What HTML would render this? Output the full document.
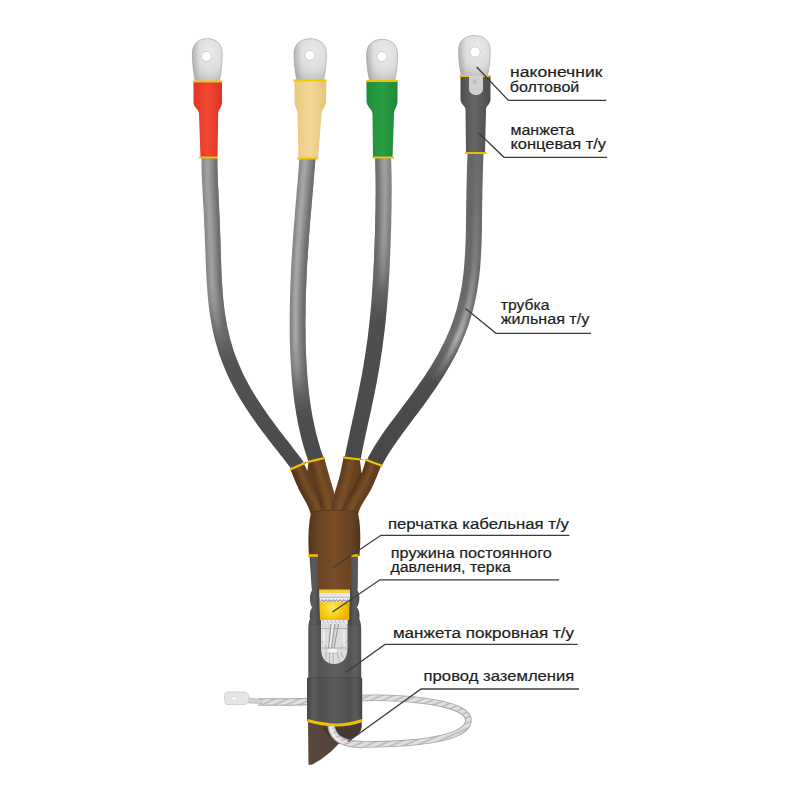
<!DOCTYPE html>
<html><head><meta charset="utf-8">
<style>
html,body{margin:0;padding:0;background:#fff;width:800px;height:800px;overflow:hidden}
svg{display:block}
.t{font-family:"Liberation Sans",sans-serif;font-size:14.9px;fill:#1e1e1e;stroke:#1e1e1e;stroke-width:0.2px}
.ld{stroke:#3c3c3c;stroke-width:1.3;fill:none}
</style></head><body>
<svg width="800" height="800" viewBox="0 0 800 800">
<defs>
  <radialGradient id="spring" cx="0.42" cy="0.6" r="0.55">
    <stop offset="0" stop-color="#ffe868"/><stop offset="0.55" stop-color="#f8cc10"/><stop offset="1" stop-color="#e8b000"/>
  </radialGradient>
  <pattern id="twist" patternUnits="userSpaceOnUse" width="10" height="5" patternTransform="rotate(-24)">
    <rect width="10" height="5" fill="#d6d6d6"/><rect y="0" width="10" height="0.9" fill="#b2b2b2"/><rect y="2" width="10" height="1.6" fill="#e4e4e4"/>
  </pattern>
  <filter id="bl" x="-50%" y="-5%" width="200%" height="110%"><feGaussianBlur stdDeviation="1.8"/></filter>
  <radialGradient id="lug" cx="0.58" cy="0.32" r="0.8">
    <stop offset="0" stop-color="#ececec"/><stop offset="0.55" stop-color="#dcdcdc"/><stop offset="1" stop-color="#b4b4b4"/>
  </radialGradient>
  <linearGradient id="lugsh" x1="0" y1="0" x2="1" y2="0">
    <stop offset="0" stop-color="#888" stop-opacity="0.35"/><stop offset="0.25" stop-color="#888" stop-opacity="0"/><stop offset="1" stop-color="#888" stop-opacity="0"/>
  </linearGradient>
  <linearGradient id="lugv" x1="0" y1="0" x2="0" y2="1">
    <stop offset="0" stop-color="#fff" stop-opacity="0"/><stop offset="0.6" stop-color="#fff" stop-opacity="0"/><stop offset="1" stop-color="#999" stop-opacity="0.35"/>
  </linearGradient>
  <!-- cable base gradients -->
  <linearGradient id="c1b" gradientUnits="userSpaceOnUse" x1="0" y1="160" x2="0" y2="466"><stop offset="0" stop-color="#8a8a8a"/><stop offset="0.45" stop-color="#858585"/><stop offset="0.66" stop-color="#545454"/><stop offset="1" stop-color="#4a4a4a"/></linearGradient>
  <linearGradient id="c1h" gradientUnits="userSpaceOnUse" x1="0" y1="160" x2="0" y2="466"><stop offset="0" stop-color="#a2a2a2"/><stop offset="0.4" stop-color="#a0a0a0"/><stop offset="0.6" stop-color="#a0a0a0" stop-opacity="0"/><stop offset="1" stop-color="#a0a0a0" stop-opacity="0"/></linearGradient>
  <linearGradient id="c1e" gradientUnits="userSpaceOnUse" x1="0" y1="160" x2="0" y2="466"><stop offset="0" stop-color="#6e6e6e"/><stop offset="0.5" stop-color="#6a6a6a"/><stop offset="0.7" stop-color="#4b4b4b" stop-opacity="0"/><stop offset="1" stop-color="#4b4b4b" stop-opacity="0"/></linearGradient>
  <linearGradient id="c2b" gradientUnits="userSpaceOnUse" x1="0" y1="160" x2="0" y2="461"><stop offset="0" stop-color="#8a8a8a"/><stop offset="0.68" stop-color="#7e7e7e"/><stop offset="0.84" stop-color="#4f4f4f"/><stop offset="1" stop-color="#4a4a4a"/></linearGradient>
  <linearGradient id="c2h" gradientUnits="userSpaceOnUse" x1="0" y1="160" x2="0" y2="461"><stop offset="0" stop-color="#a6a6a6"/><stop offset="0.6" stop-color="#a8a8a8"/><stop offset="0.78" stop-color="#a0a0a0" stop-opacity="0"/><stop offset="1" stop-color="#a0a0a0" stop-opacity="0"/></linearGradient>
  <linearGradient id="c2e" gradientUnits="userSpaceOnUse" x1="0" y1="160" x2="0" y2="461"><stop offset="0" stop-color="#6e6e6e"/><stop offset="0.65" stop-color="#6a6a6a"/><stop offset="0.82" stop-color="#4b4b4b" stop-opacity="0"/><stop offset="1" stop-color="#4b4b4b" stop-opacity="0"/></linearGradient>
  <linearGradient id="c3b" gradientUnits="userSpaceOnUse" x1="0" y1="160" x2="0" y2="459"><stop offset="0" stop-color="#888888"/><stop offset="0.33" stop-color="#7a7a7a"/><stop offset="0.54" stop-color="#4f4f4f"/><stop offset="1" stop-color="#494949"/></linearGradient>
  <linearGradient id="c3h" gradientUnits="userSpaceOnUse" x1="0" y1="160" x2="0" y2="459"><stop offset="0" stop-color="#a0a0a0"/><stop offset="0.25" stop-color="#9c9c9c"/><stop offset="0.45" stop-color="#a0a0a0" stop-opacity="0"/><stop offset="1" stop-color="#a0a0a0" stop-opacity="0"/></linearGradient>
  <linearGradient id="c3e" gradientUnits="userSpaceOnUse" x1="0" y1="160" x2="0" y2="459"><stop offset="0" stop-color="#6e6e6e"/><stop offset="0.3" stop-color="#6a6a6a"/><stop offset="0.5" stop-color="#4b4b4b" stop-opacity="0"/><stop offset="1" stop-color="#4b4b4b" stop-opacity="0"/></linearGradient>
  <linearGradient id="c4b" gradientUnits="userSpaceOnUse" x1="0" y1="152" x2="0" y2="463"><stop offset="0" stop-color="#666666"/><stop offset="0.41" stop-color="#686868"/><stop offset="0.6" stop-color="#6e6e6e"/><stop offset="0.75" stop-color="#4c4c4c"/><stop offset="1" stop-color="#484848"/></linearGradient>
  <linearGradient id="c4h" gradientUnits="userSpaceOnUse" x1="0" y1="152" x2="0" y2="463"><stop offset="0" stop-color="#7a7a7a" stop-opacity="0.3"/><stop offset="0.35" stop-color="#8e8e8e" stop-opacity="0.6"/><stop offset="0.6" stop-color="#b0b0b0"/><stop offset="0.73" stop-color="#a0a0a0" stop-opacity="0"/><stop offset="1" stop-color="#a0a0a0" stop-opacity="0"/></linearGradient>
  <linearGradient id="c4e" gradientUnits="userSpaceOnUse" x1="0" y1="152" x2="0" y2="463"><stop offset="0" stop-color="#505050" stop-opacity="0"/><stop offset="1" stop-color="#505050" stop-opacity="0"/></linearGradient>
  <linearGradient id="fb" gradientUnits="userSpaceOnUse" x1="290" y1="0" x2="382" y2="0">
    <stop offset="0" stop-color="#5e3c1d"/><stop offset="0.5" stop-color="#6f4826"/><stop offset="1" stop-color="#5c3b1d"/>
  </linearGradient>
  <linearGradient id="palm" x1="0" y1="0" x2="1" y2="0">
    <stop offset="0" stop-color="#53351a"/><stop offset="0.2" stop-color="#6a4424"/><stop offset="0.5" stop-color="#7a4e27"/><stop offset="0.8" stop-color="#6a4424"/><stop offset="1" stop-color="#50331a"/>
  </linearGradient>
  <linearGradient id="sleeve" x1="0" y1="0" x2="1" y2="0">
    <stop offset="0" stop-color="#474747"/><stop offset="0.12" stop-color="#5c5c5c"/><stop offset="0.22" stop-color="#4e4e4e"/><stop offset="0.5" stop-color="#5a5a5a"/><stop offset="0.78" stop-color="#505050"/><stop offset="0.88" stop-color="#5a5a5a"/><stop offset="1" stop-color="#444444"/>
  </linearGradient>
  <linearGradient id="red" x1="0" y1="0" x2="1" y2="0">
    <stop offset="0" stop-color="#e23425"/><stop offset="0.5" stop-color="#f04833"/><stop offset="1" stop-color="#dc3224"/>
  </linearGradient>
  <linearGradient id="beige" x1="0" y1="0" x2="1" y2="0">
    <stop offset="0" stop-color="#e8c87f"/><stop offset="0.5" stop-color="#f2d898"/><stop offset="1" stop-color="#e4c47a"/>
  </linearGradient>
  <linearGradient id="green" x1="0" y1="0" x2="1" y2="0">
    <stop offset="0" stop-color="#1d8d39"/><stop offset="0.5" stop-color="#2a9e45"/><stop offset="1" stop-color="#1b8a36"/>
  </linearGradient>
  <linearGradient id="dark" x1="0" y1="0" x2="1" y2="0">
    <stop offset="0" stop-color="#4e4e4e"/><stop offset="0.45" stop-color="#666666"/><stop offset="1" stop-color="#4c4c4c"/>
  </linearGradient>
  <linearGradient id="brownsheath" x1="0" y1="0" x2="1" y2="0">
    <stop offset="0" stop-color="#57473d"/><stop offset="1" stop-color="#4f4037"/>
  </linearGradient>
</defs>
<rect width="800" height="800" fill="#fff"/>

<!-- ground wire back part -->
<g fill="none" stroke-linecap="butt">
<path id="w1" d="M258,702 C280,702 295,702 310,701.5" stroke="#a6a6a6" stroke-width="7.5"/>
<path d="M258,702 C280,702 295,702 310,701.5" stroke="url(#twist)" stroke-width="5.5"/>
<path d="M360,698 C405,696.5 445,702 460,710 C473,717 471,727 455,734 C435,742 400,744.5 360,744.5" stroke="#a6a6a6" stroke-width="6.6"/>
<path d="M360,698 C405,696.5 445,702 460,710 C473,717 471,727 455,734 C435,742 400,744.5 360,744.5" stroke="url(#twist)" stroke-width="4.8"/>
</g>

<!-- cables -->
<clipPath id="clc1"><path d="M201.5,156.9 L201.5,160.9 L201.5,164.9 L201.6,168.9 L201.7,172.9 L201.8,176.8 L202.0,180.8 L202.2,184.7 L202.4,188.7 L202.6,192.6 L202.8,196.5 L203.0,200.4 L203.3,204.3 L203.5,208.2 L203.7,212.1 L203.9,216.0 L204.1,219.9 L204.2,223.8 L204.4,227.7 L204.6,231.6 L204.7,235.5 L204.9,239.4 L205.0,243.3 L205.2,247.2 L205.3,251.1 L205.5,255.0 L205.6,259.0 L205.8,262.9 L205.9,266.8 L206.1,270.8 L206.3,274.7 L206.5,278.7 L206.7,282.6 L207.0,286.6 L207.3,290.6 L207.6,294.5 L208.0,298.5 L208.4,302.5 L208.8,306.5 L209.4,310.5 L209.9,314.5 L210.6,318.6 L211.2,322.6 L212.0,326.6 L212.8,330.7 L213.7,334.7 L214.7,338.7 L215.8,342.8 L217.0,346.8 L218.2,350.9 L219.5,354.9 L221.0,359.0 L222.5,363.0 L224.1,367.1 L225.8,371.1 L227.6,375.2 L229.5,379.2 L231.5,383.2 L233.6,387.3 L235.8,391.3 L238.0,395.3 L240.4,399.3 L242.9,403.3 L245.4,407.3 L248.0,411.3 L250.7,415.3 L253.5,419.3 L256.3,423.2 L259.2,427.2 L262.1,431.2 L265.1,435.1 L268.1,439.0 L271.1,443.0 L274.2,446.9 L277.3,450.8 L280.3,454.7 L283.4,458.6 L286.4,462.5 L289.3,466.3 L292.3,470.2 L303.5,461.8 L300.6,457.8 L297.6,453.9 L294.5,449.9 L291.5,446.0 L288.5,442.1 L285.4,438.2 L282.4,434.3 L279.4,430.4 L276.5,426.5 L273.6,422.6 L270.7,418.7 L268.0,414.9 L265.3,411.0 L262.6,407.2 L260.1,403.3 L257.6,399.5 L255.2,395.7 L252.9,391.9 L250.6,388.1 L248.5,384.3 L246.5,380.5 L244.5,376.7 L242.7,372.9 L240.9,369.1 L239.3,365.3 L237.7,361.5 L236.2,357.8 L234.8,354.0 L233.5,350.2 L232.3,346.4 L231.2,342.7 L230.1,338.9 L229.2,335.1 L228.3,331.3 L227.4,327.6 L226.7,323.8 L226.0,320.0 L225.4,316.2 L224.8,312.4 L224.3,308.6 L223.8,304.8 L223.4,300.9 L223.0,297.1 L222.7,293.3 L222.4,289.4 L222.2,285.6 L221.9,281.7 L221.7,277.9 L221.5,274.0 L221.4,270.1 L221.2,266.2 L221.1,262.3 L221.0,258.4 L220.9,254.5 L220.7,250.6 L220.6,246.7 L220.5,242.8 L220.4,238.9 L220.2,234.9 L220.1,231.0 L220.0,227.1 L219.8,223.2 L219.7,219.2 L219.5,215.3 L219.3,211.4 L219.1,207.5 L218.9,203.5 L218.7,199.6 L218.6,195.7 L218.4,191.8 L218.2,187.9 L218.0,184.0 L217.8,180.1 L217.7,176.3 L217.6,172.4 L217.5,168.6 L217.4,164.8 L217.4,160.9 L217.5,157.1Z"/></clipPath>
<path d="M201.5,156.9 L201.5,160.9 L201.5,164.9 L201.6,168.9 L201.7,172.9 L201.8,176.8 L202.0,180.8 L202.2,184.7 L202.4,188.7 L202.6,192.6 L202.8,196.5 L203.0,200.4 L203.3,204.3 L203.5,208.2 L203.7,212.1 L203.9,216.0 L204.1,219.9 L204.2,223.8 L204.4,227.7 L204.6,231.6 L204.7,235.5 L204.9,239.4 L205.0,243.3 L205.2,247.2 L205.3,251.1 L205.5,255.0 L205.6,259.0 L205.8,262.9 L205.9,266.8 L206.1,270.8 L206.3,274.7 L206.5,278.7 L206.7,282.6 L207.0,286.6 L207.3,290.6 L207.6,294.5 L208.0,298.5 L208.4,302.5 L208.8,306.5 L209.4,310.5 L209.9,314.5 L210.6,318.6 L211.2,322.6 L212.0,326.6 L212.8,330.7 L213.7,334.7 L214.7,338.7 L215.8,342.8 L217.0,346.8 L218.2,350.9 L219.5,354.9 L221.0,359.0 L222.5,363.0 L224.1,367.1 L225.8,371.1 L227.6,375.2 L229.5,379.2 L231.5,383.2 L233.6,387.3 L235.8,391.3 L238.0,395.3 L240.4,399.3 L242.9,403.3 L245.4,407.3 L248.0,411.3 L250.7,415.3 L253.5,419.3 L256.3,423.2 L259.2,427.2 L262.1,431.2 L265.1,435.1 L268.1,439.0 L271.1,443.0 L274.2,446.9 L277.3,450.8 L280.3,454.7 L283.4,458.6 L286.4,462.5 L289.3,466.3 L292.3,470.2 L303.5,461.8 L300.6,457.8 L297.6,453.9 L294.5,449.9 L291.5,446.0 L288.5,442.1 L285.4,438.2 L282.4,434.3 L279.4,430.4 L276.5,426.5 L273.6,422.6 L270.7,418.7 L268.0,414.9 L265.3,411.0 L262.6,407.2 L260.1,403.3 L257.6,399.5 L255.2,395.7 L252.9,391.9 L250.6,388.1 L248.5,384.3 L246.5,380.5 L244.5,376.7 L242.7,372.9 L240.9,369.1 L239.3,365.3 L237.7,361.5 L236.2,357.8 L234.8,354.0 L233.5,350.2 L232.3,346.4 L231.2,342.7 L230.1,338.9 L229.2,335.1 L228.3,331.3 L227.4,327.6 L226.7,323.8 L226.0,320.0 L225.4,316.2 L224.8,312.4 L224.3,308.6 L223.8,304.8 L223.4,300.9 L223.0,297.1 L222.7,293.3 L222.4,289.4 L222.2,285.6 L221.9,281.7 L221.7,277.9 L221.5,274.0 L221.4,270.1 L221.2,266.2 L221.1,262.3 L221.0,258.4 L220.9,254.5 L220.7,250.6 L220.6,246.7 L220.5,242.8 L220.4,238.9 L220.2,234.9 L220.1,231.0 L220.0,227.1 L219.8,223.2 L219.7,219.2 L219.5,215.3 L219.3,211.4 L219.1,207.5 L218.9,203.5 L218.7,199.6 L218.6,195.7 L218.4,191.8 L218.2,187.9 L218.0,184.0 L217.8,180.1 L217.7,176.3 L217.6,172.4 L217.5,168.6 L217.4,164.8 L217.4,160.9 L217.5,157.1Z" fill="url(#c1b)"/>
<g clip-path="url(#clc1)">
<path d="M214.0,157.1 L214.0,160.9 L214.0,164.8 L214.0,168.6 L214.1,172.5 L214.2,176.4 L214.4,180.3 L214.5,184.2 L214.7,188.1 L214.9,192.0 L215.1,195.9 L215.3,199.8 L215.5,203.7 L215.7,207.6 L215.9,211.5 L216.1,215.5 L216.2,219.4 L216.4,223.3 L216.6,227.2 L216.7,231.1 L216.9,235.1 L217.0,239.0 L217.1,242.9 L217.2,246.8 L217.4,250.7 L217.5,254.6 L217.6,258.5 L217.7,262.4 L217.9,266.3 L218.0,270.2 L218.2,274.1 L218.4,278.0 L218.6,281.9 L218.8,285.8 L219.1,289.7 L219.4,293.5 L219.7,297.4 L220.1,301.3 L220.5,305.1 L221.0,309.0 L221.5,312.8 L222.1,316.7 L222.8,320.5 L223.5,324.4 L224.2,328.2 L225.1,332.1 L226.0,335.9 L227.0,339.7 L228.1,343.6 L229.2,347.4 L230.5,351.2 L231.8,355.1 L233.2,358.9 L234.7,362.7 L236.3,366.6 L238.0,370.4 L239.8,374.3 L241.7,378.1 L243.7,381.9 L245.7,385.8 L247.9,389.6 L250.1,393.5 L252.5,397.4 L254.9,401.2 L257.4,405.1 L260.0,409.0 L262.7,412.8 L265.4,416.7 L268.2,420.6 L271.1,424.5 L274.0,428.4 L276.9,432.3 L279.9,436.2 L283.0,440.1 L286.0,444.0 L289.0,447.9 L292.1,451.8 L295.1,455.8 L298.1,459.7 L301.1,463.6 L305.6,460.2 L302.7,456.2 L299.7,452.3 L296.6,448.3 L293.6,444.4 L290.6,440.4 L287.5,436.5 L284.5,432.6 L281.6,428.7 L278.6,424.9 L275.7,421.0 L272.9,417.2 L270.2,413.3 L267.5,409.5 L264.9,405.7 L262.3,401.9 L259.9,398.0 L257.5,394.3 L255.2,390.5 L253.0,386.7 L250.9,382.9 L248.9,379.2 L247.0,375.4 L245.2,371.7 L243.4,367.9 L241.8,364.2 L240.3,360.5 L238.8,356.8 L237.4,353.0 L236.2,349.3 L235.0,345.6 L233.9,341.9 L232.8,338.2 L231.9,334.4 L231.0,330.7 L230.2,327.0 L229.4,323.2 L228.8,319.5 L228.1,315.7 L227.6,312.0 L227.1,308.2 L226.6,304.4 L226.2,300.6 L225.9,296.8 L225.5,293.0 L225.3,289.2 L225.0,285.4 L224.8,281.5 L224.6,277.7 L224.4,273.8 L224.3,270.0 L224.1,266.1 L224.0,262.2 L223.9,258.3 L223.7,254.4 L223.6,250.5 L223.5,246.6 L223.4,242.7 L223.3,238.8 L223.2,234.8 L223.0,230.9 L222.9,227.0 L222.7,223.0 L222.6,219.1 L222.4,215.2 L222.2,211.2 L222.1,207.3 L221.9,203.4 L221.7,199.5 L221.5,195.5 L221.3,191.6 L221.1,187.8 L221.0,183.9 L220.8,180.0 L220.7,176.2 L220.6,172.3 L220.5,168.5 L220.4,164.7 L220.4,161.0 L220.5,157.1Z" fill="url(#c1e)" filter="url(#bl)"/>
<path d="M204.5,156.9 L204.5,160.9 L204.5,164.9 L204.6,168.8 L204.7,172.8 L204.8,176.7 L205.0,180.7 L205.1,184.6 L205.3,188.5 L205.6,192.5 L205.8,196.4 L206.0,200.3 L206.2,204.2 L206.4,208.1 L206.6,212.0 L206.8,215.9 L207.0,219.8 L207.2,223.7 L207.3,227.6 L207.5,231.5 L207.7,235.4 L207.8,239.3 L207.9,243.2 L208.1,247.1 L208.2,251.0 L208.4,254.9 L208.5,258.9 L208.6,262.8 L208.8,266.7 L209.0,270.6 L209.2,274.6 L209.4,278.5 L209.6,282.4 L209.8,286.4 L210.1,290.3 L210.4,294.3 L210.8,298.3 L211.2,302.2 L211.7,306.2 L212.2,310.2 L212.7,314.1 L213.3,318.1 L214.0,322.1 L214.8,326.1 L215.6,330.1 L216.5,334.1 L217.4,338.1 L218.5,342.1 L219.6,346.0 L220.8,350.0 L222.2,354.0 L223.6,358.0 L225.0,362.0 L226.6,366.0 L228.3,370.0 L230.1,374.0 L232.0,378.0 L233.9,382.0 L236.0,386.0 L238.2,390.0 L240.4,393.9 L242.7,397.9 L245.2,401.9 L247.7,405.9 L250.3,409.8 L252.9,413.8 L255.7,417.7 L258.5,421.7 L261.3,425.6 L264.3,429.6 L267.2,433.5 L270.2,437.4 L273.2,441.3 L276.3,445.3 L279.4,449.2 L282.4,453.1 L285.4,457.0 L288.5,460.9 L291.4,464.8 L294.4,468.6 L298.2,465.7 L295.3,461.8 L292.3,457.9 L289.3,454.0 L286.3,450.1 L283.2,446.2 L280.2,442.3 L277.1,438.3 L274.1,434.4 L271.1,430.5 L268.2,426.6 L265.3,422.7 L262.5,418.8 L259.7,414.9 L257.0,411.0 L254.4,407.1 L251.9,403.2 L249.4,399.3 L247.0,395.4 L244.7,391.5 L242.5,387.6 L240.4,383.6 L238.4,379.7 L236.5,375.8 L234.7,371.9 L233.0,368.0 L231.3,364.1 L229.8,360.2 L228.3,356.3 L227.0,352.4 L225.7,348.5 L224.5,344.6 L223.4,340.7 L222.4,336.8 L221.5,332.9 L220.6,329.0 L219.8,325.1 L219.1,321.2 L218.4,317.3 L217.8,313.4 L217.3,309.5 L216.8,305.6 L216.4,301.7 L216.0,297.8 L215.6,293.9 L215.3,290.0 L215.1,286.0 L214.8,282.1 L214.6,278.2 L214.4,274.3 L214.2,270.4 L214.1,266.5 L213.9,262.6 L213.8,258.7 L213.6,254.8 L213.5,250.9 L213.4,246.9 L213.3,243.0 L213.1,239.1 L213.0,235.2 L212.8,231.3 L212.7,227.4 L212.5,223.5 L212.3,219.6 L212.2,215.6 L212.0,211.7 L211.8,207.8 L211.6,203.9 L211.4,200.0 L211.2,196.1 L211.0,192.2 L210.8,188.3 L210.6,184.4 L210.4,180.4 L210.3,176.5 L210.1,172.6 L210.0,168.7 L210.0,164.8 L210.0,160.9 L210.0,157.0Z" fill="url(#c1h)" filter="url(#bl)"/>
</g>
<clipPath id="clc2"><path d="M299.5,157.4 L299.2,161.2 L298.9,165.0 L298.6,168.9 L298.3,172.7 L298.0,176.5 L297.7,180.3 L297.4,184.2 L297.0,188.0 L296.7,191.8 L296.4,195.7 L296.1,199.5 L295.7,203.4 L295.4,207.2 L295.1,211.0 L294.8,214.9 L294.5,218.7 L294.2,222.6 L293.9,226.4 L293.6,230.3 L293.3,234.1 L293.0,238.0 L292.7,241.8 L292.5,245.7 L292.2,249.5 L292.0,253.4 L291.8,257.3 L291.5,261.1 L291.3,265.0 L291.1,268.8 L290.9,272.7 L290.8,276.5 L290.6,280.4 L290.4,284.3 L290.3,288.1 L290.2,292.0 L290.1,295.9 L290.0,299.7 L289.9,303.6 L289.8,307.5 L289.8,311.3 L289.7,315.2 L289.7,319.1 L289.7,322.9 L289.7,326.8 L289.7,330.7 L289.8,334.5 L289.8,338.4 L289.9,342.3 L290.0,346.2 L290.2,350.0 L290.3,353.9 L290.5,357.8 L290.7,361.7 L290.9,365.6 L291.2,369.5 L291.4,373.4 L291.7,377.3 L292.1,381.1 L292.4,385.0 L292.8,388.9 L293.3,392.9 L293.7,396.8 L294.2,400.7 L294.8,404.6 L295.4,408.5 L296.0,412.4 L296.7,416.3 L297.4,420.3 L298.2,424.2 L299.0,428.1 L299.9,432.1 L300.8,436.0 L301.8,439.9 L302.9,443.9 L304.0,447.8 L305.2,451.8 L306.5,455.8 L307.8,459.7 L309.2,463.6 L323.8,458.4 L322.5,454.6 L321.2,450.9 L320.0,447.2 L318.9,443.5 L317.9,439.7 L316.9,436.0 L315.9,432.3 L315.1,428.6 L314.2,424.8 L313.4,421.1 L312.7,417.4 L312.0,413.6 L311.4,409.9 L310.8,406.1 L310.2,402.4 L309.7,398.6 L309.2,394.8 L308.8,391.1 L308.4,387.3 L308.0,383.5 L307.7,379.8 L307.3,376.0 L307.1,372.2 L306.8,368.4 L306.6,364.6 L306.3,360.9 L306.2,357.1 L306.0,353.3 L305.9,349.5 L305.7,345.7 L305.6,341.9 L305.6,338.1 L305.5,334.3 L305.5,330.5 L305.4,326.7 L305.4,322.9 L305.4,319.1 L305.5,315.3 L305.5,311.5 L305.6,307.7 L305.6,303.9 L305.7,300.1 L305.8,296.3 L306.0,292.5 L306.1,288.7 L306.2,284.9 L306.4,281.1 L306.6,277.3 L306.7,273.4 L306.9,269.6 L307.1,265.8 L307.3,262.0 L307.6,258.2 L307.8,254.4 L308.1,250.6 L308.3,246.7 L308.6,242.9 L308.8,239.1 L309.1,235.3 L309.4,231.5 L309.7,227.7 L310.0,223.8 L310.3,220.0 L310.6,216.2 L311.0,212.4 L311.3,208.5 L311.6,204.7 L311.9,200.9 L312.3,197.0 L312.6,193.2 L312.9,189.4 L313.3,185.5 L313.6,181.7 L313.9,177.8 L314.2,174.0 L314.5,170.1 L314.9,166.3 L315.2,162.4 L315.4,158.6Z"/></clipPath>
<path d="M299.5,157.4 L299.2,161.2 L298.9,165.0 L298.6,168.9 L298.3,172.7 L298.0,176.5 L297.7,180.3 L297.4,184.2 L297.0,188.0 L296.7,191.8 L296.4,195.7 L296.1,199.5 L295.7,203.4 L295.4,207.2 L295.1,211.0 L294.8,214.9 L294.5,218.7 L294.2,222.6 L293.9,226.4 L293.6,230.3 L293.3,234.1 L293.0,238.0 L292.7,241.8 L292.5,245.7 L292.2,249.5 L292.0,253.4 L291.8,257.3 L291.5,261.1 L291.3,265.0 L291.1,268.8 L290.9,272.7 L290.8,276.5 L290.6,280.4 L290.4,284.3 L290.3,288.1 L290.2,292.0 L290.1,295.9 L290.0,299.7 L289.9,303.6 L289.8,307.5 L289.8,311.3 L289.7,315.2 L289.7,319.1 L289.7,322.9 L289.7,326.8 L289.7,330.7 L289.8,334.5 L289.8,338.4 L289.9,342.3 L290.0,346.2 L290.2,350.0 L290.3,353.9 L290.5,357.8 L290.7,361.7 L290.9,365.6 L291.2,369.5 L291.4,373.4 L291.7,377.3 L292.1,381.1 L292.4,385.0 L292.8,388.9 L293.3,392.9 L293.7,396.8 L294.2,400.7 L294.8,404.6 L295.4,408.5 L296.0,412.4 L296.7,416.3 L297.4,420.3 L298.2,424.2 L299.0,428.1 L299.9,432.1 L300.8,436.0 L301.8,439.9 L302.9,443.9 L304.0,447.8 L305.2,451.8 L306.5,455.8 L307.8,459.7 L309.2,463.6 L323.8,458.4 L322.5,454.6 L321.2,450.9 L320.0,447.2 L318.9,443.5 L317.9,439.7 L316.9,436.0 L315.9,432.3 L315.1,428.6 L314.2,424.8 L313.4,421.1 L312.7,417.4 L312.0,413.6 L311.4,409.9 L310.8,406.1 L310.2,402.4 L309.7,398.6 L309.2,394.8 L308.8,391.1 L308.4,387.3 L308.0,383.5 L307.7,379.8 L307.3,376.0 L307.1,372.2 L306.8,368.4 L306.6,364.6 L306.3,360.9 L306.2,357.1 L306.0,353.3 L305.9,349.5 L305.7,345.7 L305.6,341.9 L305.6,338.1 L305.5,334.3 L305.5,330.5 L305.4,326.7 L305.4,322.9 L305.4,319.1 L305.5,315.3 L305.5,311.5 L305.6,307.7 L305.6,303.9 L305.7,300.1 L305.8,296.3 L306.0,292.5 L306.1,288.7 L306.2,284.9 L306.4,281.1 L306.6,277.3 L306.7,273.4 L306.9,269.6 L307.1,265.8 L307.3,262.0 L307.6,258.2 L307.8,254.4 L308.1,250.6 L308.3,246.7 L308.6,242.9 L308.8,239.1 L309.1,235.3 L309.4,231.5 L309.7,227.7 L310.0,223.8 L310.3,220.0 L310.6,216.2 L311.0,212.4 L311.3,208.5 L311.6,204.7 L311.9,200.9 L312.3,197.0 L312.6,193.2 L312.9,189.4 L313.3,185.5 L313.6,181.7 L313.9,177.8 L314.2,174.0 L314.5,170.1 L314.9,166.3 L315.2,162.4 L315.4,158.6Z" fill="url(#c2b)"/>
<g clip-path="url(#clc2)">
<path d="M312.0,158.3 L311.7,162.2 L311.4,166.0 L311.1,169.9 L310.8,173.7 L310.4,177.5 L310.1,181.4 L309.8,185.2 L309.5,189.1 L309.1,192.9 L308.8,196.7 L308.5,200.6 L308.1,204.4 L307.8,208.2 L307.5,212.1 L307.2,215.9 L306.9,219.7 L306.5,223.6 L306.2,227.4 L305.9,231.2 L305.7,235.0 L305.4,238.9 L305.1,242.7 L304.8,246.5 L304.6,250.3 L304.3,254.2 L304.1,258.0 L303.9,261.8 L303.7,265.6 L303.5,269.5 L303.3,273.3 L303.1,277.1 L302.9,280.9 L302.8,284.7 L302.6,288.6 L302.5,292.4 L302.4,296.2 L302.3,300.0 L302.2,303.8 L302.1,307.7 L302.1,311.5 L302.0,315.3 L302.0,319.1 L302.0,322.9 L302.0,326.7 L302.0,330.6 L302.1,334.4 L302.1,338.2 L302.2,342.0 L302.3,345.8 L302.4,349.6 L302.6,353.4 L302.7,357.2 L302.9,361.0 L303.1,364.9 L303.4,368.7 L303.6,372.5 L303.9,376.3 L304.2,380.1 L304.6,383.9 L305.0,387.7 L305.4,391.5 L305.9,395.3 L306.3,399.1 L306.9,402.8 L307.4,406.6 L308.0,410.4 L308.7,414.2 L309.4,418.0 L310.1,421.8 L310.9,425.6 L311.7,429.3 L312.6,433.1 L313.6,436.9 L314.6,440.7 L315.7,444.4 L316.8,448.2 L318.0,452.0 L319.3,455.7 L320.6,459.5 L326.6,457.4 L325.2,453.6 L324.0,450.0 L322.8,446.3 L321.7,442.6 L320.7,439.0 L319.7,435.3 L318.8,431.6 L317.9,427.9 L317.1,424.2 L316.3,420.5 L315.6,416.8 L314.9,413.1 L314.3,409.4 L313.7,405.7 L313.1,401.9 L312.6,398.2 L312.1,394.5 L311.7,390.7 L311.3,387.0 L310.9,383.3 L310.6,379.5 L310.3,375.7 L310.0,372.0 L309.7,368.2 L309.5,364.5 L309.3,360.7 L309.1,356.9 L308.9,353.2 L308.8,349.4 L308.7,345.6 L308.6,341.8 L308.5,338.1 L308.4,334.3 L308.4,330.5 L308.4,326.7 L308.4,322.9 L308.4,319.1 L308.4,315.3 L308.5,311.6 L308.5,307.8 L308.6,304.0 L308.7,300.2 L308.8,296.4 L308.9,292.6 L309.0,288.8 L309.2,285.0 L309.3,281.2 L309.5,277.4 L309.7,273.6 L309.9,269.8 L310.1,266.0 L310.3,262.2 L310.5,258.4 L310.8,254.6 L311.0,250.8 L311.3,246.9 L311.5,243.1 L311.8,239.3 L312.1,235.5 L312.4,231.7 L312.7,227.9 L313.0,224.1 L313.3,220.2 L313.6,216.4 L313.9,212.6 L314.3,208.8 L314.6,205.0 L314.9,201.1 L315.2,197.3 L315.6,193.5 L315.9,189.6 L316.2,185.8 L316.6,181.9 L316.9,178.1 L317.2,174.2 L317.5,170.4 L317.8,166.5 L318.1,162.7 L318.4,158.8Z" fill="url(#c2e)" filter="url(#bl)"/>
<path d="M302.5,157.6 L302.2,161.5 L301.9,165.3 L301.6,169.1 L301.3,172.9 L301.0,176.8 L300.7,180.6 L300.3,184.4 L300.0,188.3 L299.7,192.1 L299.4,195.9 L299.0,199.8 L298.7,203.6 L298.4,207.4 L298.1,211.3 L297.8,215.1 L297.4,219.0 L297.1,222.8 L296.8,226.7 L296.5,230.5 L296.3,234.3 L296.0,238.2 L295.7,242.0 L295.4,245.9 L295.2,249.7 L295.0,253.6 L294.7,257.4 L294.5,261.3 L294.3,265.1 L294.1,269.0 L293.9,272.8 L293.7,276.7 L293.6,280.5 L293.4,284.4 L293.3,288.2 L293.1,292.1 L293.0,295.9 L292.9,299.8 L292.8,303.6 L292.8,307.5 L292.7,311.4 L292.7,315.2 L292.6,319.1 L292.6,322.9 L292.7,326.8 L292.7,330.6 L292.7,334.5 L292.8,338.4 L292.9,342.2 L293.0,346.1 L293.1,349.9 L293.3,353.8 L293.4,357.7 L293.6,361.5 L293.8,365.4 L294.1,369.3 L294.4,373.1 L294.7,377.0 L295.0,380.9 L295.4,384.8 L295.8,388.6 L296.2,392.5 L296.6,396.4 L297.1,400.3 L297.7,404.2 L298.3,408.0 L298.9,411.9 L299.6,415.8 L300.3,419.7 L301.0,423.6 L301.9,427.5 L302.7,431.4 L303.7,435.3 L304.6,439.2 L305.7,443.1 L306.8,447.0 L308.0,450.9 L309.2,454.8 L310.6,458.8 L312.0,462.6 L317.0,460.8 L315.6,457.0 L314.3,453.2 L313.1,449.3 L311.9,445.5 L310.8,441.7 L309.8,437.9 L308.9,434.0 L307.9,430.2 L307.1,426.4 L306.3,422.5 L305.5,418.7 L304.8,414.9 L304.2,411.1 L303.6,407.2 L303.0,403.4 L302.5,399.6 L302.0,395.7 L301.5,391.9 L301.1,388.1 L300.7,384.2 L300.4,380.4 L300.0,376.6 L299.7,372.7 L299.5,368.9 L299.2,365.1 L299.0,361.3 L298.8,357.4 L298.6,353.6 L298.5,349.8 L298.4,345.9 L298.3,342.1 L298.2,338.3 L298.1,334.4 L298.1,330.6 L298.1,326.8 L298.1,322.9 L298.1,319.1 L298.1,315.3 L298.1,311.4 L298.2,307.6 L298.3,303.8 L298.3,299.9 L298.4,296.1 L298.6,292.3 L298.7,288.4 L298.8,284.6 L299.0,280.8 L299.2,276.9 L299.3,273.1 L299.5,269.3 L299.7,265.4 L299.9,261.6 L300.2,257.8 L300.4,253.9 L300.6,250.1 L300.9,246.2 L301.2,242.4 L301.4,238.6 L301.7,234.7 L302.0,230.9 L302.3,227.1 L302.6,223.2 L302.9,219.4 L303.2,215.6 L303.5,211.7 L303.8,207.9 L304.2,204.1 L304.5,200.2 L304.8,196.4 L305.2,192.6 L305.5,188.7 L305.8,184.9 L306.1,181.1 L306.5,177.2 L306.8,173.4 L307.1,169.5 L307.4,165.7 L307.7,161.9 L308.0,158.0Z" fill="url(#c2h)" filter="url(#bl)"/>
</g>
<clipPath id="clc3"><path d="M375.0,157.4 L375.2,161.2 L375.3,164.9 L375.4,168.7 L375.5,172.5 L375.6,176.2 L375.6,180.0 L375.7,183.8 L375.7,187.6 L375.7,191.4 L375.7,195.2 L375.6,199.0 L375.6,202.8 L375.6,206.6 L375.5,210.4 L375.4,214.2 L375.3,218.0 L375.3,221.8 L375.2,225.6 L375.1,229.4 L375.0,233.2 L374.8,237.0 L374.7,240.8 L374.6,244.6 L374.4,248.4 L374.3,252.2 L374.1,256.1 L374.0,259.9 L373.8,263.7 L373.6,267.5 L373.4,271.3 L373.2,275.1 L373.0,278.9 L372.7,282.7 L372.5,286.4 L372.2,290.2 L372.0,294.0 L371.7,297.8 L371.4,301.6 L371.1,305.4 L370.7,309.2 L370.4,313.0 L370.0,316.8 L369.6,320.5 L369.2,324.3 L368.8,328.1 L368.3,331.9 L367.9,335.7 L367.4,339.4 L366.9,343.2 L366.3,347.0 L365.8,350.8 L365.2,354.6 L364.6,358.3 L364.0,362.1 L363.4,365.9 L362.7,369.7 L362.1,373.5 L361.4,377.3 L360.6,381.0 L359.9,384.8 L359.2,388.6 L358.4,392.4 L357.6,396.2 L356.8,400.0 L356.0,403.8 L355.2,407.6 L354.4,411.4 L353.6,415.2 L352.7,419.1 L351.9,422.9 L351.0,426.7 L350.2,430.5 L349.4,434.4 L348.6,438.2 L347.8,442.1 L347.0,445.9 L346.2,449.8 L345.4,453.7 L344.7,457.5 L360.5,460.5 L361.2,456.7 L361.9,452.9 L362.6,449.1 L363.4,445.3 L364.2,441.5 L365.0,437.7 L365.8,433.9 L366.7,430.1 L367.5,426.3 L368.3,422.5 L369.2,418.7 L370.0,414.8 L370.9,411.0 L371.7,407.1 L372.5,403.3 L373.3,399.5 L374.1,395.6 L374.9,391.8 L375.6,387.9 L376.4,384.0 L377.1,380.2 L377.8,376.3 L378.5,372.5 L379.2,368.6 L379.8,364.7 L380.4,360.9 L381.0,357.0 L381.6,353.1 L382.2,349.3 L382.7,345.4 L383.2,341.5 L383.7,337.7 L384.2,333.8 L384.7,329.9 L385.1,326.1 L385.5,322.2 L385.9,318.4 L386.3,314.5 L386.7,310.6 L387.0,306.8 L387.3,302.9 L387.6,299.1 L387.9,295.2 L388.2,291.4 L388.5,287.5 L388.7,283.7 L388.9,279.8 L389.2,276.0 L389.4,272.1 L389.6,268.3 L389.8,264.4 L389.9,260.6 L390.1,256.7 L390.3,252.9 L390.4,249.1 L390.6,245.2 L390.7,241.4 L390.8,237.5 L390.9,233.7 L391.1,229.9 L391.2,226.0 L391.3,222.2 L391.3,218.3 L391.4,214.5 L391.5,210.7 L391.6,206.8 L391.6,203.0 L391.6,199.1 L391.7,195.3 L391.7,191.4 L391.7,187.6 L391.7,183.7 L391.6,179.9 L391.6,176.0 L391.5,172.1 L391.4,168.2 L391.3,164.4 L391.2,160.5 L391.0,156.6Z"/></clipPath>
<path d="M375.0,157.4 L375.2,161.2 L375.3,164.9 L375.4,168.7 L375.5,172.5 L375.6,176.2 L375.6,180.0 L375.7,183.8 L375.7,187.6 L375.7,191.4 L375.7,195.2 L375.6,199.0 L375.6,202.8 L375.6,206.6 L375.5,210.4 L375.4,214.2 L375.3,218.0 L375.3,221.8 L375.2,225.6 L375.1,229.4 L375.0,233.2 L374.8,237.0 L374.7,240.8 L374.6,244.6 L374.4,248.4 L374.3,252.2 L374.1,256.1 L374.0,259.9 L373.8,263.7 L373.6,267.5 L373.4,271.3 L373.2,275.1 L373.0,278.9 L372.7,282.7 L372.5,286.4 L372.2,290.2 L372.0,294.0 L371.7,297.8 L371.4,301.6 L371.1,305.4 L370.7,309.2 L370.4,313.0 L370.0,316.8 L369.6,320.5 L369.2,324.3 L368.8,328.1 L368.3,331.9 L367.9,335.7 L367.4,339.4 L366.9,343.2 L366.3,347.0 L365.8,350.8 L365.2,354.6 L364.6,358.3 L364.0,362.1 L363.4,365.9 L362.7,369.7 L362.1,373.5 L361.4,377.3 L360.6,381.0 L359.9,384.8 L359.2,388.6 L358.4,392.4 L357.6,396.2 L356.8,400.0 L356.0,403.8 L355.2,407.6 L354.4,411.4 L353.6,415.2 L352.7,419.1 L351.9,422.9 L351.0,426.7 L350.2,430.5 L349.4,434.4 L348.6,438.2 L347.8,442.1 L347.0,445.9 L346.2,449.8 L345.4,453.7 L344.7,457.5 L360.5,460.5 L361.2,456.7 L361.9,452.9 L362.6,449.1 L363.4,445.3 L364.2,441.5 L365.0,437.7 L365.8,433.9 L366.7,430.1 L367.5,426.3 L368.3,422.5 L369.2,418.7 L370.0,414.8 L370.9,411.0 L371.7,407.1 L372.5,403.3 L373.3,399.5 L374.1,395.6 L374.9,391.8 L375.6,387.9 L376.4,384.0 L377.1,380.2 L377.8,376.3 L378.5,372.5 L379.2,368.6 L379.8,364.7 L380.4,360.9 L381.0,357.0 L381.6,353.1 L382.2,349.3 L382.7,345.4 L383.2,341.5 L383.7,337.7 L384.2,333.8 L384.7,329.9 L385.1,326.1 L385.5,322.2 L385.9,318.4 L386.3,314.5 L386.7,310.6 L387.0,306.8 L387.3,302.9 L387.6,299.1 L387.9,295.2 L388.2,291.4 L388.5,287.5 L388.7,283.7 L388.9,279.8 L389.2,276.0 L389.4,272.1 L389.6,268.3 L389.8,264.4 L389.9,260.6 L390.1,256.7 L390.3,252.9 L390.4,249.1 L390.6,245.2 L390.7,241.4 L390.8,237.5 L390.9,233.7 L391.1,229.9 L391.2,226.0 L391.3,222.2 L391.3,218.3 L391.4,214.5 L391.5,210.7 L391.6,206.8 L391.6,203.0 L391.6,199.1 L391.7,195.3 L391.7,191.4 L391.7,187.6 L391.7,183.7 L391.6,179.9 L391.6,176.0 L391.5,172.1 L391.4,168.2 L391.3,164.4 L391.2,160.5 L391.0,156.6Z" fill="url(#c3b)"/>
<g clip-path="url(#clc3)">
<path d="M372.0,157.5 L372.2,161.3 L372.3,165.0 L372.4,168.8 L372.5,172.5 L372.6,176.3 L372.6,180.1 L372.7,183.8 L372.7,187.6 L372.7,191.4 L372.7,195.2 L372.6,199.0 L372.6,202.7 L372.6,206.5 L372.5,210.3 L372.4,214.1 L372.3,217.9 L372.3,221.7 L372.2,225.5 L372.1,229.3 L372.0,233.1 L371.8,236.9 L371.7,240.7 L371.6,244.5 L371.4,248.3 L371.3,252.1 L371.1,255.9 L371.0,259.7 L370.8,263.5 L370.6,267.3 L370.4,271.1 L370.2,274.9 L370.0,278.7 L369.7,282.5 L369.5,286.2 L369.2,290.0 L369.0,293.8 L368.7,297.6 L368.4,301.4 L368.1,305.1 L367.7,308.9 L367.4,312.7 L367.0,316.5 L366.6,320.2 L366.2,324.0 L365.8,327.8 L365.4,331.5 L364.9,335.3 L364.4,339.1 L363.9,342.8 L363.4,346.6 L362.8,350.3 L362.3,354.1 L361.7,357.9 L361.1,361.6 L360.4,365.4 L359.8,369.2 L359.1,372.9 L358.4,376.7 L357.7,380.5 L357.0,384.3 L356.2,388.0 L355.5,391.8 L354.7,395.6 L353.9,399.4 L353.1,403.2 L352.3,407.0 L351.5,410.8 L350.6,414.6 L349.8,418.4 L348.9,422.2 L348.1,426.1 L347.3,429.9 L346.4,433.8 L345.6,437.6 L344.8,441.5 L344.0,445.4 L343.2,449.2 L342.5,453.1 L341.8,457.0 L348.2,458.2 L348.9,454.3 L349.6,450.5 L350.4,446.6 L351.2,442.8 L352.0,439.0 L352.8,435.1 L353.6,431.3 L354.5,427.5 L355.3,423.6 L356.1,419.8 L357.0,416.0 L357.8,412.2 L358.6,408.4 L359.4,404.5 L360.3,400.7 L361.1,396.9 L361.8,393.1 L362.6,389.3 L363.4,385.5 L364.1,381.7 L364.8,377.9 L365.5,374.1 L366.2,370.3 L366.8,366.5 L367.5,362.7 L368.1,358.9 L368.7,355.1 L369.3,351.3 L369.8,347.5 L370.3,343.7 L370.9,339.9 L371.3,336.1 L371.8,332.3 L372.3,328.5 L372.7,324.7 L373.1,320.9 L373.5,317.1 L373.9,313.3 L374.2,309.5 L374.5,305.7 L374.9,301.9 L375.2,298.1 L375.5,294.3 L375.7,290.5 L376.0,286.7 L376.2,282.9 L376.5,279.1 L376.7,275.3 L376.9,271.4 L377.1,267.6 L377.3,263.8 L377.5,260.0 L377.6,256.2 L377.8,252.4 L377.9,248.6 L378.1,244.8 L378.2,240.9 L378.3,237.1 L378.5,233.3 L378.6,229.5 L378.7,225.7 L378.8,221.9 L378.8,218.1 L378.9,214.3 L379.0,210.4 L379.1,206.6 L379.1,202.8 L379.1,199.0 L379.2,195.2 L379.2,191.4 L379.2,187.6 L379.2,183.8 L379.1,180.0 L379.1,176.2 L379.0,172.4 L378.9,168.6 L378.8,164.8 L378.7,161.0 L378.5,157.2Z" fill="url(#c3e)" filter="url(#bl)"/>
<path d="M381.5,157.1 L381.7,160.9 L381.8,164.7 L381.9,168.5 L382.0,172.3 L382.1,176.1 L382.1,180.0 L382.2,183.8 L382.2,187.6 L382.2,191.4 L382.2,195.2 L382.1,199.0 L382.1,202.9 L382.1,206.7 L382.0,210.5 L381.9,214.3 L381.8,218.1 L381.8,222.0 L381.7,225.8 L381.6,229.6 L381.5,233.4 L381.3,237.2 L381.2,241.1 L381.1,244.9 L380.9,248.7 L380.8,252.5 L380.6,256.3 L380.5,260.1 L380.3,264.0 L380.1,267.8 L379.9,271.6 L379.7,275.4 L379.5,279.2 L379.2,283.1 L379.0,286.9 L378.7,290.7 L378.5,294.5 L378.2,298.3 L377.9,302.1 L377.5,306.0 L377.2,309.8 L376.8,313.6 L376.5,317.4 L376.1,321.2 L375.7,325.0 L375.2,328.9 L374.8,332.7 L374.3,336.5 L373.8,340.3 L373.3,344.1 L372.8,347.9 L372.2,351.7 L371.6,355.6 L371.0,359.4 L370.4,363.2 L369.8,367.0 L369.1,370.8 L368.4,374.6 L367.7,378.4 L367.0,382.3 L366.3,386.1 L365.5,389.9 L364.8,393.7 L364.0,397.5 L363.2,401.3 L362.4,405.2 L361.6,409.0 L360.7,412.8 L359.9,416.6 L359.1,420.5 L358.2,424.3 L357.4,428.1 L356.6,431.9 L355.7,435.7 L354.9,439.6 L354.1,443.4 L353.3,447.2 L352.6,451.1 L351.8,454.9 L351.1,458.7 L356.5,459.7 L357.2,455.9 L358.0,452.1 L358.7,448.3 L359.5,444.5 L360.3,440.7 L361.1,436.9 L361.9,433.1 L362.8,429.3 L363.6,425.5 L364.4,421.6 L365.3,417.8 L366.1,414.0 L366.9,410.1 L367.8,406.3 L368.6,402.5 L369.4,398.6 L370.2,394.8 L370.9,391.0 L371.7,387.1 L372.4,383.3 L373.2,379.5 L373.9,375.6 L374.5,371.8 L375.2,367.9 L375.9,364.1 L376.5,360.2 L377.1,356.4 L377.7,352.5 L378.2,348.7 L378.8,344.9 L379.3,341.0 L379.8,337.2 L380.2,333.3 L380.7,329.5 L381.1,325.6 L381.5,321.8 L381.9,318.0 L382.3,314.1 L382.7,310.3 L383.0,306.4 L383.3,302.6 L383.6,298.8 L383.9,294.9 L384.2,291.1 L384.5,287.2 L384.7,283.4 L385.0,279.6 L385.2,275.7 L385.4,271.9 L385.6,268.1 L385.8,264.2 L385.9,260.4 L386.1,256.6 L386.3,252.7 L386.4,248.9 L386.6,245.1 L386.7,241.2 L386.8,237.4 L386.9,233.6 L387.1,229.7 L387.2,225.9 L387.3,222.1 L387.3,218.3 L387.4,214.4 L387.5,210.6 L387.6,206.8 L387.6,202.9 L387.6,199.1 L387.7,195.2 L387.7,191.4 L387.7,187.6 L387.7,183.7 L387.6,179.9 L387.6,176.1 L387.5,172.2 L387.4,168.4 L387.3,164.5 L387.2,160.7 L387.0,156.8Z" fill="url(#c3h)" filter="url(#bl)"/>
</g>
<clipPath id="clc4"><path d="M467.5,151.7 L467.4,155.7 L467.3,159.6 L467.1,163.5 L467.0,167.5 L466.9,171.4 L466.8,175.4 L466.7,179.4 L466.6,183.3 L466.5,187.3 L466.4,191.2 L466.4,195.2 L466.3,199.1 L466.2,203.1 L466.2,207.0 L466.1,211.0 L466.1,214.9 L466.0,218.8 L466.0,222.7 L465.9,226.7 L465.9,230.6 L465.8,234.5 L465.7,238.4 L465.6,242.3 L465.4,246.2 L465.2,250.0 L465.0,253.9 L464.8,257.8 L464.5,261.6 L464.2,265.5 L463.9,269.3 L463.5,273.1 L463.0,277.0 L462.5,280.8 L461.9,284.6 L461.3,288.4 L460.6,292.2 L459.8,296.0 L459.0,299.8 L458.1,303.6 L457.1,307.4 L456.1,311.2 L454.9,314.9 L453.7,318.7 L452.4,322.5 L451.0,326.3 L449.5,330.1 L447.9,333.9 L446.2,337.7 L444.5,341.5 L442.6,345.3 L440.7,349.1 L438.7,352.9 L436.5,356.7 L434.3,360.5 L432.0,364.4 L429.7,368.2 L427.2,372.0 L424.7,375.9 L422.1,379.8 L419.4,383.6 L416.7,387.5 L413.9,391.4 L411.1,395.3 L408.2,399.2 L405.3,403.1 L402.3,407.0 L399.4,411.0 L396.4,414.9 L393.5,418.9 L390.5,422.8 L387.6,426.8 L384.7,430.8 L381.9,434.8 L379.2,438.9 L376.5,443.0 L374.0,447.0 L371.6,451.2 L369.3,455.3 L367.2,459.4 L381.5,466.6 L383.4,462.8 L385.5,459.1 L387.7,455.3 L390.0,451.6 L392.5,447.7 L395.1,443.9 L397.8,440.1 L400.6,436.2 L403.4,432.3 L406.3,428.4 L409.2,424.5 L412.2,420.6 L415.1,416.6 L418.1,412.7 L421.0,408.7 L424.0,404.7 L426.9,400.8 L429.7,396.8 L432.5,392.8 L435.3,388.8 L438.0,384.8 L440.6,380.7 L443.2,376.7 L445.7,372.7 L448.1,368.6 L450.5,364.6 L452.7,360.5 L454.9,356.5 L457.0,352.4 L458.9,348.3 L460.8,344.3 L462.6,340.2 L464.3,336.1 L465.9,332.0 L467.4,327.9 L468.9,323.8 L470.2,319.7 L471.4,315.6 L472.6,311.6 L473.6,307.5 L474.6,303.4 L475.5,299.3 L476.3,295.2 L477.1,291.2 L477.7,287.1 L478.3,283.0 L478.9,279.0 L479.4,274.9 L479.8,270.9 L480.2,266.9 L480.5,262.8 L480.8,258.8 L481.0,254.8 L481.2,250.8 L481.4,246.8 L481.6,242.8 L481.7,238.8 L481.8,234.9 L481.9,230.9 L481.9,226.9 L482.0,223.0 L482.0,219.0 L482.1,215.1 L482.1,211.1 L482.2,207.2 L482.2,203.3 L482.3,199.4 L482.4,195.4 L482.4,191.5 L482.5,187.6 L482.6,183.7 L482.7,179.8 L482.8,175.8 L482.9,171.9 L483.0,168.0 L483.1,164.1 L483.3,160.1 L483.4,156.2 L483.5,152.3Z"/></clipPath>
<path d="M467.5,151.7 L467.4,155.7 L467.3,159.6 L467.1,163.5 L467.0,167.5 L466.9,171.4 L466.8,175.4 L466.7,179.4 L466.6,183.3 L466.5,187.3 L466.4,191.2 L466.4,195.2 L466.3,199.1 L466.2,203.1 L466.2,207.0 L466.1,211.0 L466.1,214.9 L466.0,218.8 L466.0,222.7 L465.9,226.7 L465.9,230.6 L465.8,234.5 L465.7,238.4 L465.6,242.3 L465.4,246.2 L465.2,250.0 L465.0,253.9 L464.8,257.8 L464.5,261.6 L464.2,265.5 L463.9,269.3 L463.5,273.1 L463.0,277.0 L462.5,280.8 L461.9,284.6 L461.3,288.4 L460.6,292.2 L459.8,296.0 L459.0,299.8 L458.1,303.6 L457.1,307.4 L456.1,311.2 L454.9,314.9 L453.7,318.7 L452.4,322.5 L451.0,326.3 L449.5,330.1 L447.9,333.9 L446.2,337.7 L444.5,341.5 L442.6,345.3 L440.7,349.1 L438.7,352.9 L436.5,356.7 L434.3,360.5 L432.0,364.4 L429.7,368.2 L427.2,372.0 L424.7,375.9 L422.1,379.8 L419.4,383.6 L416.7,387.5 L413.9,391.4 L411.1,395.3 L408.2,399.2 L405.3,403.1 L402.3,407.0 L399.4,411.0 L396.4,414.9 L393.5,418.9 L390.5,422.8 L387.6,426.8 L384.7,430.8 L381.9,434.8 L379.2,438.9 L376.5,443.0 L374.0,447.0 L371.6,451.2 L369.3,455.3 L367.2,459.4 L381.5,466.6 L383.4,462.8 L385.5,459.1 L387.7,455.3 L390.0,451.6 L392.5,447.7 L395.1,443.9 L397.8,440.1 L400.6,436.2 L403.4,432.3 L406.3,428.4 L409.2,424.5 L412.2,420.6 L415.1,416.6 L418.1,412.7 L421.0,408.7 L424.0,404.7 L426.9,400.8 L429.7,396.8 L432.5,392.8 L435.3,388.8 L438.0,384.8 L440.6,380.7 L443.2,376.7 L445.7,372.7 L448.1,368.6 L450.5,364.6 L452.7,360.5 L454.9,356.5 L457.0,352.4 L458.9,348.3 L460.8,344.3 L462.6,340.2 L464.3,336.1 L465.9,332.0 L467.4,327.9 L468.9,323.8 L470.2,319.7 L471.4,315.6 L472.6,311.6 L473.6,307.5 L474.6,303.4 L475.5,299.3 L476.3,295.2 L477.1,291.2 L477.7,287.1 L478.3,283.0 L478.9,279.0 L479.4,274.9 L479.8,270.9 L480.2,266.9 L480.5,262.8 L480.8,258.8 L481.0,254.8 L481.2,250.8 L481.4,246.8 L481.6,242.8 L481.7,238.8 L481.8,234.9 L481.9,230.9 L481.9,226.9 L482.0,223.0 L482.0,219.0 L482.1,215.1 L482.1,211.1 L482.2,207.2 L482.2,203.3 L482.3,199.4 L482.4,195.4 L482.4,191.5 L482.5,187.6 L482.6,183.7 L482.7,179.8 L482.8,175.8 L482.9,171.9 L483.0,168.0 L483.1,164.1 L483.3,160.1 L483.4,156.2 L483.5,152.3Z" fill="url(#c4b)"/>
<g clip-path="url(#clc4)">
<path d="M464.5,151.6 L464.4,155.6 L464.3,159.5 L464.1,163.5 L464.0,167.4 L463.9,171.4 L463.8,175.3 L463.7,179.3 L463.6,183.2 L463.5,187.2 L463.4,191.2 L463.4,195.1 L463.3,199.1 L463.2,203.0 L463.2,207.0 L463.1,210.9 L463.1,214.9 L463.0,218.8 L463.0,222.7 L462.9,226.6 L462.9,230.5 L462.8,234.4 L462.7,238.3 L462.6,242.2 L462.4,246.0 L462.3,249.9 L462.1,253.7 L461.8,257.6 L461.6,261.4 L461.2,265.2 L460.9,269.0 L460.5,272.8 L460.0,276.6 L459.5,280.4 L459.0,284.1 L458.4,287.9 L457.7,291.6 L456.9,295.4 L456.1,299.1 L455.2,302.9 L454.2,306.6 L453.2,310.3 L452.0,314.1 L450.8,317.8 L449.5,321.5 L448.2,325.2 L446.7,329.0 L445.1,332.7 L443.5,336.4 L441.8,340.2 L439.9,343.9 L438.0,347.7 L436.0,351.5 L433.9,355.2 L431.7,359.0 L429.5,362.8 L427.1,366.6 L424.7,370.4 L422.2,374.2 L419.6,378.1 L417.0,381.9 L414.2,385.8 L411.5,389.6 L408.6,393.5 L405.8,397.4 L402.9,401.3 L399.9,405.2 L397.0,409.2 L394.0,413.1 L391.1,417.1 L388.1,421.1 L385.2,425.1 L382.3,429.1 L379.5,433.1 L376.7,437.2 L374.0,441.3 L371.4,445.5 L369.0,449.7 L366.6,453.9 L364.5,458.0 L370.3,461.0 L372.4,457.0 L374.6,452.9 L377.0,448.9 L379.5,444.8 L382.1,440.8 L384.8,436.8 L387.6,432.8 L390.4,428.9 L393.3,424.9 L396.3,420.9 L399.2,417.0 L402.2,413.1 L405.1,409.1 L408.1,405.2 L411.0,401.3 L413.9,397.4 L416.7,393.4 L419.5,389.5 L422.3,385.6 L425.0,381.7 L427.6,377.8 L430.2,373.9 L432.6,370.1 L435.0,366.2 L437.4,362.3 L439.6,358.4 L441.7,354.6 L443.8,350.7 L445.8,346.8 L447.6,343.0 L449.4,339.1 L451.1,335.3 L452.7,331.4 L454.2,327.5 L455.7,323.7 L457.0,319.8 L458.3,316.0 L459.4,312.1 L460.5,308.3 L461.5,304.4 L462.4,300.6 L463.3,296.7 L464.0,292.9 L464.8,289.0 L465.4,285.1 L466.0,281.3 L466.5,277.4 L467.0,273.5 L467.4,269.7 L467.7,265.8 L468.0,261.9 L468.3,258.0 L468.5,254.1 L468.7,250.2 L468.9,246.3 L469.1,242.4 L469.2,238.5 L469.3,234.6 L469.4,230.6 L469.4,226.7 L469.5,222.8 L469.5,218.9 L469.6,214.9 L469.6,211.0 L469.7,207.1 L469.7,203.1 L469.8,199.2 L469.9,195.2 L469.9,191.3 L470.0,187.3 L470.1,183.4 L470.2,179.4 L470.3,175.5 L470.4,171.6 L470.5,167.6 L470.6,163.7 L470.8,159.7 L470.9,155.8 L471.0,151.8Z" fill="url(#c4e)" filter="url(#bl)"/>
<path d="M475.0,152.0 L474.9,155.9 L474.8,159.9 L474.6,163.8 L474.5,167.7 L474.4,171.7 L474.3,175.6 L474.2,179.5 L474.1,183.5 L474.0,187.4 L473.9,191.4 L473.9,195.3 L473.8,199.2 L473.7,203.2 L473.7,207.1 L473.6,211.0 L473.6,215.0 L473.5,218.9 L473.5,222.9 L473.4,226.8 L473.4,230.7 L473.3,234.7 L473.2,238.6 L473.1,242.5 L472.9,246.5 L472.7,250.4 L472.5,254.3 L472.3,258.3 L472.0,262.2 L471.7,266.1 L471.3,270.1 L470.9,274.0 L470.5,277.9 L469.9,281.8 L469.3,285.8 L468.7,289.7 L468.0,293.6 L467.2,297.6 L466.3,301.5 L465.4,305.4 L464.4,309.3 L463.3,313.3 L462.1,317.2 L460.8,321.1 L459.4,325.0 L458.0,329.0 L456.4,332.9 L454.8,336.8 L453.1,340.8 L451.3,344.7 L449.3,348.6 L447.3,352.5 L445.2,356.5 L443.1,360.4 L440.8,364.3 L438.5,368.3 L436.0,372.2 L433.5,376.1 L430.9,380.1 L428.3,384.0 L425.6,387.9 L422.8,391.8 L420.0,395.8 L417.1,399.7 L414.2,403.7 L411.3,407.6 L408.3,411.5 L405.4,415.5 L402.4,419.4 L399.5,423.3 L396.6,427.3 L393.7,431.2 L390.9,435.2 L388.1,439.1 L385.4,443.0 L382.9,447.0 L380.4,450.9 L378.1,454.9 L375.9,458.8 L373.9,462.8 L378.8,465.3 L380.8,461.4 L382.9,457.6 L385.1,453.8 L387.5,449.9 L390.0,446.1 L392.6,442.2 L395.4,438.3 L398.1,434.4 L401.0,430.5 L403.9,426.6 L406.8,422.7 L409.8,418.8 L412.7,414.8 L415.7,410.9 L418.6,406.9 L421.5,403.0 L424.4,399.0 L427.3,395.0 L430.1,391.1 L432.8,387.1 L435.5,383.1 L438.1,379.1 L440.7,375.1 L443.1,371.1 L445.5,367.1 L447.9,363.1 L450.1,359.1 L452.2,355.1 L454.3,351.1 L456.2,347.0 L458.1,343.0 L459.9,339.0 L461.5,335.0 L463.1,330.9 L464.6,326.9 L466.0,322.9 L467.3,318.8 L468.5,314.8 L469.7,310.8 L470.7,306.7 L471.7,302.7 L472.6,298.7 L473.4,294.7 L474.1,290.6 L474.8,286.6 L475.4,282.6 L475.9,278.6 L476.4,274.6 L476.8,270.6 L477.2,266.6 L477.5,262.6 L477.8,258.6 L478.0,254.6 L478.2,250.7 L478.4,246.7 L478.6,242.7 L478.7,238.7 L478.8,234.8 L478.9,230.8 L478.9,226.9 L479.0,222.9 L479.0,219.0 L479.1,215.0 L479.1,211.1 L479.2,207.2 L479.2,203.2 L479.3,199.3 L479.4,195.4 L479.4,191.5 L479.5,187.5 L479.6,183.6 L479.7,179.7 L479.8,175.8 L479.9,171.8 L480.0,167.9 L480.1,164.0 L480.3,160.0 L480.4,156.1 L480.5,152.2Z" fill="url(#c4h)" filter="url(#bl)"/>
</g>

<!-- lugs -->
<g fill="url(#lug)" stroke="#a8a8a8" stroke-width="0.7">
<path d="M195.7,82 C193.4,75 192.4,62.1 192.4,53.1 C192.4,44.4 198.4,38.6 207.3,38.6 C216.2,38.6 222.2,44.4 222.2,53.1 C222.2,62.1 221.2,75 218.9,82 Z"/>
<path d="M297.3,81 C295.0,74 294,62.2 294,53.2 C294,44.5 300.5,38.7 310.2,38.7 C319.9,38.7 326.4,44.5 326.4,53.2 C326.4,62.2 325.4,74 323.1,81 Z"/>
<path d="M369.9,81.5 C367.6,74.5 366.6,62.8 366.6,53.8 C366.6,45.1 372.8,39.3 382.1,39.3 C391.4,39.3 397.6,45.1 397.6,53.8 C397.6,62.8 396.6,74.5 394.3,81.5 Z"/>
<path d="M461.9,77 C459.6,70 458.6,59.0 458.6,50.0 C458.6,41.3 464.9,35.5 474.4,35.5 C483.9,35.5 490.2,41.3 490.2,50.0 C490.2,59.0 489.2,70 486.9,77 Z"/>
</g>
<g fill="#fff" stroke="#b8b8b8" stroke-width="0.6">
  <circle cx="206.6" cy="56.3" r="5"/>
  <circle cx="310" cy="55.3" r="5"/>
  <circle cx="382" cy="56.5" r="5"/>
  <circle cx="475" cy="52" r="5.2"/>
</g>
<g fill="url(#lugsh)">
<path d="M195.7,82 C193.4,75 192.4,62.1 192.4,53.1 C192.4,44.4 198.4,38.6 207.3,38.6 C216.2,38.6 222.2,44.4 222.2,53.1 C222.2,62.1 221.2,75 218.9,82 Z"/>
<path d="M297.3,81 C295.0,74 294,62.2 294,53.2 C294,44.5 300.5,38.7 310.2,38.7 C319.9,38.7 326.4,44.5 326.4,53.2 C326.4,62.2 325.4,74 323.1,81 Z"/>
<path d="M369.9,81.5 C367.6,74.5 366.6,62.8 366.6,53.8 C366.6,45.1 372.8,39.3 382.1,39.3 C391.4,39.3 397.6,45.1 397.6,53.8 C397.6,62.8 396.6,74.5 394.3,81.5 Z"/>
<path d="M461.9,77 C459.6,70 458.6,59.0 458.6,50.0 C458.6,41.3 464.9,35.5 474.4,35.5 C483.9,35.5 490.2,41.3 490.2,50.0 C490.2,59.0 489.2,70 486.9,77 Z"/>
</g>

<!-- sleeves -->
<path d="M193.5,81 L222,81 L222,102 C222,108 218.2,109 218.2,114 L217.5,158 L200.5,158 L199,114 C199,109 193.5,108 193.5,102 Z" fill="url(#red)"/>
<path d="M294.5,80 L326.2,80 L326.2,101 C326.2,107 321.5,109 321.5,114 L318,159 L298.5,159 L297.5,114 C297.5,109 294.5,107 294.5,101 Z" fill="url(#beige)"/>
<path d="M366.5,80.5 L397.5,80.5 L397.5,101 C397.5,107 394,109 394,114 L392.5,158 L373,158 L372.5,114 C372.5,109 366.5,107 366.5,101 Z" fill="url(#green)"/>
<path d="M460.5,76 L490.5,76 L490.5,99 C490.5,105 486,105 486,110 L485,153 L466,153 L465.5,110 C465.5,105 460.5,105 460.5,99 Z" fill="url(#dark)"/>
<path d="M469,89 L469,76 L483,76 L483,89 C483,92.5 480,95 476,95 C472,95 469,92.5 469,89 Z" fill="#cfcfcf"/>
<circle cx="474.8" cy="81.5" r="2.2" fill="#bdbdbd"/>
<!-- sleeve bands -->
<g stroke="#f2c600" stroke-width="1.9" fill="none">
  <path d="M193,81.5 L222.5,81.5"/><path d="M199,157.5 L218,157.5"/>
  <path d="M293.5,80.5 L326.5,80.5"/><path d="M297,158.5 L318,158.5"/>
  <path d="M366,81 L398,81"/><path d="M372.5,157.5 L394,157.5"/>
  <path d="M459.5,76 L469,76"/><path d="M483,76 L490.5,76"/><path d="M465,153 L486.5,153"/>
</g>

<!-- glove fingers -->
<path d="M303,464 L309,461.5 C314,475 318,488 322,500 L312,505 C310,490 307,477 303,464 Z" fill="#5e3d1f"/>
<path d="M359,459 L367,460.5 C363,475 358,488 352,500 L342,500 C348,488 354,475 359,459 Z" fill="#5e3d1f"/>
<clipPath id="clf1"><path d="M289.9,468.2 L290.6,469.8 L291.3,471.5 L292.0,473.1 L292.6,474.8 L293.3,476.4 L294.0,478.1 L294.7,479.8 L295.4,481.5 L296.1,483.3 L296.9,485.0 L297.7,486.8 L298.5,488.6 L299.4,490.4 L300.4,492.2 L301.3,494.0 L302.3,495.8 L303.3,497.4 L304.2,499.1 L305.1,500.7 L306.0,502.3 L306.8,503.8 L307.5,505.3 L308.2,506.7 L308.8,508.1 L309.3,509.5 L309.8,510.9 L310.3,512.4 L310.7,513.9 L311.1,515.4 L311.5,517.0 L311.9,518.6 L312.3,520.2 L312.7,521.9 L313.1,523.6 L313.5,525.4 L314.0,527.1 L330.0,522.9 L329.6,521.3 L329.2,519.7 L328.8,518.1 L328.4,516.4 L328.0,514.8 L327.6,513.0 L327.2,511.3 L326.7,509.5 L326.2,507.6 L325.6,505.7 L324.9,503.8 L324.2,501.9 L323.4,500.0 L322.5,498.0 L321.6,496.2 L320.6,494.4 L319.6,492.6 L318.6,490.9 L317.7,489.2 L316.8,487.6 L315.9,486.0 L315.0,484.4 L314.2,482.9 L313.5,481.4 L312.8,479.9 L312.1,478.3 L311.4,476.7 L310.7,475.1 L310.0,473.5 L309.4,471.9 L308.7,470.2 L308.0,468.6 L307.3,466.9 L306.7,465.2 L306.0,463.5 L305.3,461.8Z"/></clipPath>
<path d="M289.9,468.2 L290.6,469.8 L291.3,471.5 L292.0,473.1 L292.6,474.8 L293.3,476.4 L294.0,478.1 L294.7,479.8 L295.4,481.5 L296.1,483.3 L296.9,485.0 L297.7,486.8 L298.5,488.6 L299.4,490.4 L300.4,492.2 L301.3,494.0 L302.3,495.8 L303.3,497.4 L304.2,499.1 L305.1,500.7 L306.0,502.3 L306.8,503.8 L307.5,505.3 L308.2,506.7 L308.8,508.1 L309.3,509.5 L309.8,510.9 L310.3,512.4 L310.7,513.9 L311.1,515.4 L311.5,517.0 L311.9,518.6 L312.3,520.2 L312.7,521.9 L313.1,523.6 L313.5,525.4 L314.0,527.1 L330.0,522.9 L329.6,521.3 L329.2,519.7 L328.8,518.1 L328.4,516.4 L328.0,514.8 L327.6,513.0 L327.2,511.3 L326.7,509.5 L326.2,507.6 L325.6,505.7 L324.9,503.8 L324.2,501.9 L323.4,500.0 L322.5,498.0 L321.6,496.2 L320.6,494.4 L319.6,492.6 L318.6,490.9 L317.7,489.2 L316.8,487.6 L315.9,486.0 L315.0,484.4 L314.2,482.9 L313.5,481.4 L312.8,479.9 L312.1,478.3 L311.4,476.7 L310.7,475.1 L310.0,473.5 L309.4,471.9 L308.7,470.2 L308.0,468.6 L307.3,466.9 L306.7,465.2 L306.0,463.5 L305.3,461.8Z" fill="url(#fb)"/>
<g clip-path="url(#clf1)"><path d="M295.3,466.0 L296.0,467.6 L296.7,469.3 L297.3,470.9 L298.0,472.6 L298.7,474.3 L299.4,475.9 L300.0,477.6 L300.7,479.3 L301.5,481.0 L302.2,482.7 L303.0,484.4 L303.7,486.1 L304.6,487.8 L305.5,489.5 L306.4,491.2 L307.4,492.9 L308.3,494.6 L309.3,496.2 L310.2,497.9 L311.1,499.5 L312.0,501.1 L312.8,502.8 L313.5,504.4 L314.2,505.9 L314.8,507.5 L315.3,509.1 L315.8,510.7 L316.3,512.3 L316.7,514.0 L317.1,515.6 L317.5,517.2 L317.9,518.9 L318.3,520.6 L318.7,522.3 L319.1,524.0 L319.6,525.6 L324.4,524.4 L324.0,522.7 L323.6,521.1 L323.2,519.4 L322.8,517.8 L322.4,516.1 L322.0,514.4 L321.6,512.7 L321.1,511.0 L320.6,509.3 L320.1,507.6 L319.5,505.8 L318.8,504.1 L318.1,502.3 L317.3,500.6 L316.4,498.9 L315.5,497.1 L314.6,495.4 L313.6,493.8 L312.7,492.1 L311.7,490.4 L310.8,488.8 L309.9,487.2 L309.0,485.5 L308.3,483.9 L307.5,482.3 L306.8,480.7 L306.0,479.0 L305.3,477.4 L304.7,475.7 L304.0,474.1 L303.3,472.4 L302.6,470.7 L302.0,469.1 L301.3,467.4 L300.6,465.7 L299.9,464.0Z" fill="#7e5229" filter="url(#bl)" opacity="0.8"/><path d="M287.4,469.2 L288.1,470.9 L288.8,472.5 L289.5,474.1 L290.1,475.8 L290.8,477.5 L291.5,479.1 L292.2,480.9 L292.9,482.6 L293.6,484.3 L294.4,486.1 L295.2,487.9 L296.1,489.7 L297.0,491.6 L298.0,493.5 L299.0,495.3 L300.0,497.1 L300.9,498.8 L301.9,500.4 L302.8,502.0 L303.6,503.6 L304.4,505.0 L305.1,506.5 L305.7,507.8 L306.3,509.1 L306.8,510.4 L307.3,511.8 L307.7,513.2 L308.1,514.6 L308.5,516.1 L308.9,517.6 L309.3,519.2 L309.6,520.8 L310.0,522.5 L310.5,524.3 L310.9,526.1 L311.4,527.8 L316.2,526.5 L315.7,524.8 L315.3,523.1 L314.9,521.4 L314.5,519.7 L314.1,518.0 L313.7,516.4 L313.3,514.8 L312.9,513.3 L312.5,511.7 L312.0,510.2 L311.5,508.7 L310.9,507.2 L310.3,505.8 L309.6,504.3 L308.8,502.8 L308.0,501.2 L307.1,499.6 L306.2,498.0 L305.3,496.3 L304.3,494.6 L303.3,492.9 L302.4,491.2 L301.5,489.4 L300.6,487.6 L299.8,485.8 L299.0,484.1 L298.2,482.4 L297.5,480.7 L296.8,479.0 L296.1,477.3 L295.4,475.6 L294.8,473.9 L294.1,472.2 L293.4,470.6 L292.7,469.0 L292.1,467.3Z" fill="#4a2f16" filter="url(#bl)" opacity="0.5"/></g>
<clipPath id="clf2"><path d="M308.0,461.2 L308.5,462.9 L308.9,464.5 L309.4,466.2 L309.8,467.9 L310.3,469.6 L310.7,471.3 L311.2,472.9 L311.7,474.6 L312.1,476.3 L312.6,477.9 L313.0,479.6 L313.5,481.3 L314.0,482.9 L314.5,484.6 L315.0,486.2 L315.4,487.8 L315.9,489.4 L316.4,491.0 L316.9,492.5 L317.3,494.0 L317.7,495.5 L318.2,497.0 L318.6,498.5 L318.9,500.0 L319.3,501.5 L319.7,503.0 L320.0,504.5 L320.3,506.0 L320.6,507.6 L321.0,509.1 L321.3,510.7 L321.6,512.3 L321.9,513.9 L322.2,515.5 L322.5,517.1 L322.9,518.7 L339.1,515.3 L338.8,513.7 L338.5,512.2 L338.2,510.6 L337.9,509.1 L337.6,507.5 L337.2,505.9 L336.9,504.2 L336.6,502.6 L336.2,501.0 L335.8,499.3 L335.5,497.7 L335.1,496.0 L334.6,494.3 L334.2,492.6 L333.7,491.0 L333.2,489.4 L332.8,487.8 L332.3,486.2 L331.8,484.6 L331.3,483.0 L330.9,481.4 L330.4,479.9 L329.9,478.3 L329.5,476.7 L329.0,475.1 L328.6,473.5 L328.1,471.9 L327.7,470.2 L327.2,468.5 L326.8,466.9 L326.3,465.2 L325.8,463.5 L325.4,461.8 L324.9,460.2 L324.5,458.5 L324.0,456.8Z"/></clipPath>
<path d="M308.0,461.2 L308.5,462.9 L308.9,464.5 L309.4,466.2 L309.8,467.9 L310.3,469.6 L310.7,471.3 L311.2,472.9 L311.7,474.6 L312.1,476.3 L312.6,477.9 L313.0,479.6 L313.5,481.3 L314.0,482.9 L314.5,484.6 L315.0,486.2 L315.4,487.8 L315.9,489.4 L316.4,491.0 L316.9,492.5 L317.3,494.0 L317.7,495.5 L318.2,497.0 L318.6,498.5 L318.9,500.0 L319.3,501.5 L319.7,503.0 L320.0,504.5 L320.3,506.0 L320.6,507.6 L321.0,509.1 L321.3,510.7 L321.6,512.3 L321.9,513.9 L322.2,515.5 L322.5,517.1 L322.9,518.7 L339.1,515.3 L338.8,513.7 L338.5,512.2 L338.2,510.6 L337.9,509.1 L337.6,507.5 L337.2,505.9 L336.9,504.2 L336.6,502.6 L336.2,501.0 L335.8,499.3 L335.5,497.7 L335.1,496.0 L334.6,494.3 L334.2,492.6 L333.7,491.0 L333.2,489.4 L332.8,487.8 L332.3,486.2 L331.8,484.6 L331.3,483.0 L330.9,481.4 L330.4,479.9 L329.9,478.3 L329.5,476.7 L329.0,475.1 L328.6,473.5 L328.1,471.9 L327.7,470.2 L327.2,468.5 L326.8,466.9 L326.3,465.2 L325.8,463.5 L325.4,461.8 L324.9,460.2 L324.5,458.5 L324.0,456.8Z" fill="url(#fb)"/>
<g clip-path="url(#clf2)"><path d="M313.6,459.7 L314.0,461.3 L314.5,463.0 L315.0,464.7 L315.4,466.4 L315.9,468.0 L316.3,469.7 L316.8,471.4 L317.3,473.1 L317.7,474.7 L318.2,476.4 L318.6,478.0 L319.1,479.7 L319.6,481.3 L320.0,482.9 L320.5,484.5 L321.0,486.1 L321.5,487.7 L321.9,489.3 L322.4,490.8 L322.9,492.4 L323.3,494.0 L323.8,495.5 L324.2,497.1 L324.6,498.6 L325.0,500.2 L325.3,501.7 L325.7,503.3 L326.0,504.8 L326.3,506.4 L326.6,508.0 L327.0,509.6 L327.3,511.2 L327.6,512.7 L327.9,514.3 L328.2,515.9 L328.6,517.5 L333.4,516.5 L333.1,514.9 L332.8,513.3 L332.5,511.8 L332.2,510.2 L331.9,508.6 L331.5,507.0 L331.2,505.4 L330.9,503.8 L330.5,502.2 L330.2,500.6 L329.8,499.0 L329.4,497.4 L329.0,495.8 L328.6,494.2 L328.1,492.6 L327.7,491.0 L327.2,489.4 L326.7,487.8 L326.3,486.3 L325.8,484.7 L325.3,483.1 L324.8,481.5 L324.4,479.9 L323.9,478.3 L323.4,476.7 L323.0,475.1 L322.5,473.4 L322.1,471.7 L321.6,470.1 L321.2,468.4 L320.7,466.7 L320.2,465.0 L319.8,463.4 L319.3,461.7 L318.9,460.0 L318.4,458.3Z" fill="#7e5229" filter="url(#bl)" opacity="0.8"/><path d="M305.4,461.9 L305.8,463.6 L306.3,465.2 L306.8,466.9 L307.2,468.6 L307.7,470.3 L308.1,472.0 L308.6,473.6 L309.1,475.3 L309.5,477.0 L310.0,478.7 L310.4,480.3 L310.9,482.0 L311.4,483.7 L311.9,485.3 L312.4,487.0 L312.9,488.6 L313.3,490.2 L313.8,491.7 L314.3,493.3 L314.7,494.8 L315.1,496.3 L315.6,497.8 L316.0,499.2 L316.3,500.7 L316.7,502.1 L317.0,503.6 L317.4,505.1 L317.7,506.6 L318.0,508.1 L318.3,509.7 L318.6,511.2 L318.9,512.8 L319.2,514.4 L319.6,516.0 L319.9,517.6 L320.2,519.2 L325.1,518.2 L324.8,516.6 L324.5,515.0 L324.1,513.4 L323.8,511.8 L323.5,510.3 L323.2,508.7 L322.9,507.1 L322.6,505.6 L322.2,504.0 L321.9,502.5 L321.5,501.0 L321.2,499.5 L320.8,497.9 L320.4,496.4 L320.0,494.9 L319.5,493.4 L319.1,491.8 L318.6,490.3 L318.1,488.7 L317.6,487.1 L317.2,485.5 L316.7,483.9 L316.2,482.3 L315.7,480.6 L315.3,479.0 L314.8,477.3 L314.3,475.7 L313.9,474.0 L313.4,472.3 L313.0,470.6 L312.5,469.0 L312.0,467.3 L311.6,465.6 L311.1,463.9 L310.7,462.3 L310.2,460.6Z" fill="#4a2f16" filter="url(#bl)" opacity="0.5"/></g>
<clipPath id="clf3"><path d="M343.9,456.3 L343.5,458.1 L343.1,459.8 L342.8,461.6 L342.4,463.4 L342.0,465.2 L341.7,466.9 L341.3,468.7 L341.0,470.4 L340.6,472.1 L340.2,473.8 L339.8,475.4 L339.5,477.0 L339.1,478.5 L338.6,480.0 L338.2,481.6 L337.7,483.1 L337.3,484.6 L336.8,486.2 L336.3,487.7 L335.8,489.3 L335.3,491.0 L334.9,492.6 L334.4,494.3 L334.0,496.0 L333.5,497.7 L333.2,499.3 L332.8,501.0 L332.4,502.6 L332.1,504.2 L331.8,505.9 L331.4,507.5 L331.1,509.1 L330.8,510.6 L330.5,512.2 L330.2,513.7 L329.9,515.3 L346.1,518.7 L346.5,517.1 L346.8,515.5 L347.1,513.9 L347.4,512.3 L347.7,510.7 L348.0,509.1 L348.4,507.6 L348.7,506.0 L349.0,504.5 L349.3,503.0 L349.7,501.5 L350.0,500.0 L350.4,498.6 L350.8,497.1 L351.3,495.6 L351.7,494.1 L352.2,492.6 L352.6,491.1 L353.1,489.5 L353.6,487.9 L354.1,486.2 L354.6,484.5 L355.1,482.8 L355.5,481.0 L356.0,479.2 L356.4,477.5 L356.8,475.7 L357.2,473.9 L357.6,472.1 L357.9,470.3 L358.3,468.5 L358.7,466.7 L359.0,465.0 L359.4,463.2 L359.8,461.5 L360.1,459.7Z"/></clipPath>
<path d="M343.9,456.3 L343.5,458.1 L343.1,459.8 L342.8,461.6 L342.4,463.4 L342.0,465.2 L341.7,466.9 L341.3,468.7 L341.0,470.4 L340.6,472.1 L340.2,473.8 L339.8,475.4 L339.5,477.0 L339.1,478.5 L338.6,480.0 L338.2,481.6 L337.7,483.1 L337.3,484.6 L336.8,486.2 L336.3,487.7 L335.8,489.3 L335.3,491.0 L334.9,492.6 L334.4,494.3 L334.0,496.0 L333.5,497.7 L333.2,499.3 L332.8,501.0 L332.4,502.6 L332.1,504.2 L331.8,505.9 L331.4,507.5 L331.1,509.1 L330.8,510.6 L330.5,512.2 L330.2,513.7 L329.9,515.3 L346.1,518.7 L346.5,517.1 L346.8,515.5 L347.1,513.9 L347.4,512.3 L347.7,510.7 L348.0,509.1 L348.4,507.6 L348.7,506.0 L349.0,504.5 L349.3,503.0 L349.7,501.5 L350.0,500.0 L350.4,498.6 L350.8,497.1 L351.3,495.6 L351.7,494.1 L352.2,492.6 L352.6,491.1 L353.1,489.5 L353.6,487.9 L354.1,486.2 L354.6,484.5 L355.1,482.8 L355.5,481.0 L356.0,479.2 L356.4,477.5 L356.8,475.7 L357.2,473.9 L357.6,472.1 L357.9,470.3 L358.3,468.5 L358.7,466.7 L359.0,465.0 L359.4,463.2 L359.8,461.5 L360.1,459.7Z" fill="url(#fb)"/>
<g clip-path="url(#clf3)"><path d="M349.6,457.5 L349.2,459.2 L348.8,461.0 L348.4,462.8 L348.1,464.6 L347.7,466.4 L347.4,468.1 L347.0,469.9 L346.6,471.6 L346.3,473.4 L345.9,475.1 L345.5,476.7 L345.1,478.4 L344.7,480.0 L344.2,481.6 L343.8,483.2 L343.3,484.8 L342.8,486.3 L342.3,487.9 L341.8,489.4 L341.4,491.0 L340.9,492.6 L340.4,494.2 L340.0,495.8 L339.6,497.4 L339.2,499.0 L338.8,500.6 L338.5,502.2 L338.1,503.8 L337.8,505.4 L337.5,507.0 L337.1,508.6 L336.8,510.2 L336.5,511.8 L336.2,513.3 L335.9,514.9 L335.6,516.5 L340.4,517.5 L340.8,515.9 L341.1,514.3 L341.4,512.7 L341.7,511.2 L342.0,509.6 L342.4,508.0 L342.7,506.4 L343.0,504.8 L343.3,503.3 L343.7,501.7 L344.0,500.2 L344.4,498.6 L344.8,497.1 L345.2,495.5 L345.7,494.0 L346.2,492.5 L346.6,490.9 L347.1,489.4 L347.6,487.8 L348.1,486.2 L348.6,484.6 L349.0,483.0 L349.5,481.3 L349.9,479.6 L350.3,477.9 L350.7,476.2 L351.1,474.4 L351.5,472.7 L351.9,470.9 L352.3,469.1 L352.6,467.4 L353.0,465.6 L353.3,463.8 L353.7,462.0 L354.1,460.3 L354.4,458.5Z" fill="#7e5229" filter="url(#bl)" opacity="0.8"/><path d="M341.2,455.7 L340.9,457.5 L340.5,459.3 L340.1,461.1 L339.8,462.9 L339.4,464.7 L339.0,466.4 L338.7,468.1 L338.3,469.8 L338.0,471.5 L337.6,473.2 L337.2,474.8 L336.8,476.3 L336.4,477.8 L336.0,479.3 L335.6,480.8 L335.2,482.3 L334.7,483.8 L334.2,485.4 L333.7,486.9 L333.2,488.6 L332.7,490.2 L332.3,491.9 L331.8,493.6 L331.3,495.3 L330.9,497.0 L330.5,498.7 L330.1,500.4 L329.8,502.1 L329.5,503.7 L329.1,505.3 L328.8,506.9 L328.5,508.5 L328.2,510.1 L327.9,511.7 L327.6,513.2 L327.2,514.8 L332.1,515.8 L332.5,514.2 L332.8,512.7 L333.1,511.1 L333.4,509.5 L333.7,507.9 L334.0,506.3 L334.3,504.7 L334.7,503.1 L335.0,501.5 L335.4,499.8 L335.8,498.2 L336.2,496.5 L336.6,494.9 L337.1,493.2 L337.5,491.6 L338.0,490.0 L338.5,488.4 L339.0,486.9 L339.5,485.3 L339.9,483.7 L340.4,482.2 L340.8,480.7 L341.3,479.1 L341.7,477.5 L342.1,475.9 L342.5,474.3 L342.8,472.6 L343.2,470.9 L343.6,469.2 L343.9,467.4 L344.3,465.7 L344.7,463.9 L345.0,462.1 L345.4,460.3 L345.8,458.5 L346.1,456.8Z" fill="#4a2f16" filter="url(#bl)" opacity="0.5"/></g>
<clipPath id="clf4"><path d="M366.0,458.8 L365.2,460.8 L364.4,462.7 L363.6,464.7 L362.8,466.7 L362.0,468.6 L361.3,470.6 L360.5,472.5 L359.7,474.3 L358.9,476.2 L358.2,477.9 L357.4,479.7 L356.6,481.3 L355.8,482.8 L354.9,484.4 L354.0,485.9 L353.0,487.5 L352.0,489.1 L351.0,490.7 L349.9,492.4 L348.8,494.2 L347.8,495.9 L346.8,497.8 L345.8,499.7 L344.9,501.7 L344.1,503.7 L343.4,505.7 L342.8,507.6 L342.2,509.5 L341.7,511.3 L341.3,513.1 L340.9,514.8 L340.5,516.5 L340.1,518.1 L339.8,519.7 L339.4,521.3 L339.0,522.9 L355.0,527.1 L355.5,525.4 L355.9,523.6 L356.3,521.9 L356.7,520.2 L357.1,518.5 L357.4,516.9 L357.8,515.4 L358.2,513.9 L358.6,512.4 L359.1,511.0 L359.6,509.6 L360.1,508.3 L360.7,506.9 L361.4,505.6 L362.2,504.2 L363.1,502.7 L364.0,501.2 L365.0,499.6 L366.0,498.0 L367.1,496.3 L368.2,494.5 L369.3,492.6 L370.4,490.7 L371.4,488.7 L372.4,486.7 L373.3,484.8 L374.2,482.8 L375.0,480.8 L375.8,478.8 L376.7,476.8 L377.5,474.8 L378.2,472.9 L379.0,470.9 L379.8,469.0 L380.6,467.1 L381.4,465.2Z"/></clipPath>
<path d="M366.0,458.8 L365.2,460.8 L364.4,462.7 L363.6,464.7 L362.8,466.7 L362.0,468.6 L361.3,470.6 L360.5,472.5 L359.7,474.3 L358.9,476.2 L358.2,477.9 L357.4,479.7 L356.6,481.3 L355.8,482.8 L354.9,484.4 L354.0,485.9 L353.0,487.5 L352.0,489.1 L351.0,490.7 L349.9,492.4 L348.8,494.2 L347.8,495.9 L346.8,497.8 L345.8,499.7 L344.9,501.7 L344.1,503.7 L343.4,505.7 L342.8,507.6 L342.2,509.5 L341.7,511.3 L341.3,513.1 L340.9,514.8 L340.5,516.5 L340.1,518.1 L339.8,519.7 L339.4,521.3 L339.0,522.9 L355.0,527.1 L355.5,525.4 L355.9,523.6 L356.3,521.9 L356.7,520.2 L357.1,518.5 L357.4,516.9 L357.8,515.4 L358.2,513.9 L358.6,512.4 L359.1,511.0 L359.6,509.6 L360.1,508.3 L360.7,506.9 L361.4,505.6 L362.2,504.2 L363.1,502.7 L364.0,501.2 L365.0,499.6 L366.0,498.0 L367.1,496.3 L368.2,494.5 L369.3,492.6 L370.4,490.7 L371.4,488.7 L372.4,486.7 L373.3,484.8 L374.2,482.8 L375.0,480.8 L375.8,478.8 L376.7,476.8 L377.5,474.8 L378.2,472.9 L379.0,470.9 L379.8,469.0 L380.6,467.1 L381.4,465.2Z" fill="url(#fb)"/>
<g clip-path="url(#clf4)"><path d="M371.4,461.0 L370.6,463.0 L369.8,464.9 L369.0,466.9 L368.2,468.8 L367.4,470.8 L366.6,472.7 L365.9,474.7 L365.1,476.6 L364.3,478.5 L363.4,480.3 L362.6,482.1 L361.8,483.9 L360.9,485.6 L359.9,487.3 L359.0,488.9 L358.0,490.6 L356.9,492.2 L355.9,493.8 L354.8,495.5 L353.8,497.2 L352.8,498.8 L351.9,500.5 L351.0,502.3 L350.2,504.0 L349.5,505.8 L348.9,507.5 L348.3,509.3 L347.8,511.0 L347.4,512.7 L346.9,514.4 L346.6,516.1 L346.2,517.8 L345.8,519.4 L345.4,521.1 L345.0,522.7 L344.6,524.4 L349.4,525.6 L349.9,523.9 L350.3,522.2 L350.7,520.6 L351.0,518.9 L351.4,517.2 L351.8,515.6 L352.2,513.9 L352.6,512.3 L353.1,510.7 L353.6,509.1 L354.2,507.6 L354.8,506.0 L355.5,504.4 L356.3,502.9 L357.2,501.3 L358.1,499.7 L359.1,498.1 L360.1,496.5 L361.1,494.9 L362.2,493.2 L363.3,491.5 L364.3,489.8 L365.3,488.0 L366.2,486.1 L367.1,484.3 L368.0,482.4 L368.8,480.5 L369.7,478.5 L370.5,476.6 L371.3,474.6 L372.1,472.7 L372.9,470.7 L373.6,468.8 L374.4,466.8 L375.2,464.9 L376.0,463.0Z" fill="#7e5229" filter="url(#bl)" opacity="0.8"/><path d="M363.5,457.8 L362.7,459.7 L361.9,461.7 L361.1,463.7 L360.3,465.7 L359.5,467.6 L358.8,469.6 L358.0,471.4 L357.2,473.3 L356.5,475.1 L355.7,476.8 L354.9,478.5 L354.2,480.1 L353.4,481.6 L352.6,483.0 L351.7,484.5 L350.7,486.1 L349.7,487.7 L348.7,489.3 L347.6,491.0 L346.5,492.8 L345.4,494.6 L344.4,496.5 L343.3,498.6 L342.4,500.7 L341.5,502.8 L340.8,504.8 L340.2,506.8 L339.6,508.7 L339.1,510.6 L338.7,512.4 L338.3,514.2 L337.9,515.9 L337.5,517.5 L337.1,519.1 L336.8,520.6 L336.4,522.2 L341.2,523.5 L341.6,521.9 L342.0,520.3 L342.4,518.7 L342.8,517.0 L343.1,515.3 L343.5,513.6 L344.0,511.9 L344.4,510.1 L345.0,508.3 L345.6,506.4 L346.2,504.5 L347.0,502.6 L347.8,500.7 L348.8,498.9 L349.8,497.1 L350.8,495.3 L351.9,493.6 L352.9,492.0 L354.0,490.3 L355.0,488.7 L356.0,487.1 L356.9,485.5 L357.8,483.9 L358.6,482.3 L359.4,480.6 L360.3,478.9 L361.0,477.1 L361.8,475.2 L362.6,473.3 L363.4,471.4 L364.2,469.5 L365.0,467.5 L365.7,465.6 L366.5,463.6 L367.4,461.6 L368.2,459.7Z" fill="#4a2f16" filter="url(#bl)" opacity="0.5"/></g>
<path d="M307.5,470 C312,482 317,494 322,506" stroke="#4a2f17" stroke-width="1.2" fill="none" opacity="0.45"/>
<path d="M361.5,472 C357,483 352,494 347,506" stroke="#4a2f17" stroke-width="1.2" fill="none" opacity="0.45"/>
<path d="M304.2,464 L308.4,462.2 L307.4,471 Z" fill="#fff"/>
<path d="M359.8,459.8 L365.8,460.2 L361.6,473.5 Z" fill="#fff"/>
<g stroke="#f2c600" stroke-width="2.2" fill="none">
  <path d="M290,469.5 L305,463"/><path d="M307.5,462 L324.5,458"/><path d="M343.5,457.5 L360.5,459.5"/><path d="M365,459.5 L382.5,466"/>
</g>

<!-- outer sleeve (покровная) -->
<path d="M309.5,556 L318,556 L318,622 L351,622 L351,556 L358,556 L357.8,586 L357.5,590.5 C360.2,594 360.2,603 356.8,607.6 C359.6,610 359.8,616 359.3,619 C360.5,621 361.2,625 361.2,630 L361.2,677.5 L362.2,678.5 L362.2,721 C345,726 330,726 307,721 L307,678.5 L308.3,677.5 L308.3,630 C308.3,625 308.8,621 310,619 C309.5,616 309.7,610 312.3,607.6 C309.2,603 309.2,594 312,590.5 L311.5,586 L309.5,556 Z" fill="url(#sleeve)"/>
<path d="M307.5,678 L362,678" stroke="#454545" stroke-width="0.9" opacity="0.7"/>
<rect x="308" y="626" width="54" height="51" fill="#fff" opacity="0.03"/>
<!-- window -->
<rect x="317" y="585" width="35" height="40" fill="#4a4a4a"/>
<path d="M319,589 L350,589 L349,620 L320,620 Z" fill="url(#spring)"/>
<rect x="319.5" y="589.3" width="30.5" height="3.6" fill="#f5d035"/>
<rect x="319.5" y="592.9" width="30.5" height="4.4" fill="#e6e7ec"/>
<rect x="320" y="597" width="29.5" height="5.2" fill="#eceef3"/>
<path d="M320.5,601.8 q1.8,-4.2 3.6,0 M324.1,601.8 q1.8,-4.2 3.6,0 M327.7,601.8 q1.8,-4.2 3.6,0 M331.3,601.8 q1.8,-4.2 3.6,0 M334.9,601.8 q1.8,-4.2 3.6,0 M338.5,601.8 q1.8,-4.2 3.6,0 M342.1,601.8 q1.8,-4.2 3.6,0 M345.7,601.8 q1.8,-4.2 3.6,0" stroke="#6f7890" stroke-width="0.8" fill="#c5cbd8"/>
<path d="M320,597.3 L349.5,597.3" stroke="#8a92a6" stroke-width="0.6"/>
<path d="M321,620 L347.5,620 L347.5,648 C347.5,659 342,664 334.2,664 C326.5,664 321,659 321,648 Z" fill="#dcdcdc"/>
<rect x="321" y="620" width="26.5" height="4" fill="#e6e7ea"/>
<path d="M323,620.5 l1.5,3 M327,620.5 l1.5,3 M331,620.5 l1.5,3 M335,620.5 l1.5,3 M339,620.5 l1.5,3 M343,620.5 l1.5,3" stroke="#9aa0aa" stroke-width="0.7" fill="none"/>
<g stroke="#a8a8a8" stroke-width="0.8" fill="none">
  <path d="M321.5,628.5 L347,628.5"/><path d="M321.5,648 L347,648"/>
  <path d="M322,641 L327,649"/><path d="M346.5,641 L340,649"/>
  <path d="M326,652 L326,660"/><path d="M329.5,652 L329.5,663"/><path d="M333,653 L333.5,664"/><path d="M337,652 L339.5,662"/><path d="M341,652 L343,658"/>
</g>
<g stroke="#9a9a9a" stroke-width="1.1" fill="none">
  <path d="M331,624 L328.5,648"/><path d="M335,624 L331.5,648"/><path d="M338.5,624 L334,648"/>
</g>
<g stroke="#f4f4f4" stroke-width="1.3" fill="none">
  <path d="M333,624 L330,647"/><path d="M324,630 L324,646"/><path d="M344,630 L344,646"/>
</g>
<ellipse cx="332.6" cy="650.7" rx="5" ry="2.3" fill="#f6f6f6" stroke="#b8b8b8" stroke-width="0.5"/>

<!-- glove palm -->
<path d="M311.5,512 C320,509 350,509 357.5,512 C360.5,520 361,540 359.5,556 L351,556 L351,589.5 L318,589.5 L318,556 L309,556 C307.8,540 308.5,520 311.5,512 Z" fill="url(#palm)"/>
<path d="M311.5,512.5 C320,509.5 350,509.5 357.5,512.5" stroke="#4e3218" stroke-width="1" fill="none" opacity="0.6"/>
<g stroke="#f0c000" stroke-width="2.5" fill="none">
  <path d="M308,555.5 L318,555.5"/><path d="M351,555.5 L358.5,555.5"/>
</g>

<!-- bottom cable sheath -->
<path d="M308,719 C330,725 345,725 361.5,719 L361.5,727 C361,734 354,738 346,741 L338.5,744 C331,752 322,760 311.5,764.7 L308.5,764.7 Z" fill="url(#brownsheath)"/>
<path d="M322,724 C340,726 352,724 361.5,721 L361.5,727 C361,733 355,737 347,740 C338,742 330,738 324,731 Z" fill="#443630" opacity="0.8"/>
<path d="M307.5,720.5 C330,726.5 345,726.5 362,720.5" stroke="#f0c000" stroke-width="3" fill="none"/>
<!-- ground wire front part -->
<g fill="none" stroke-linecap="butt">
<path d="M331,726 C333,738 342,744.5 362,744.5" stroke="#a6a6a6" stroke-width="7.5"/>
<path d="M331,726 C333,738 342,744.5 362,744.5" stroke="url(#twist)" stroke-width="5.5"/>
<path d="M330.5,727 C332,736 336,740 342,742" stroke="#f2f2f2" stroke-width="2" opacity="0.8"/>
</g>
<!-- ground lug -->
<path d="M248,698 L262,699.5 L262,703.5 L248,703 Z" fill="#d0d0d0" stroke="#b0b0b0" stroke-width="0.6"/>
<path d="M227,692 L244,692 C247,692 249,694 249,697 L249,700 C249,703 247,704.5 244,704.5 L227,704.5 C225,704.5 224.5,702 224.5,698 C224.5,694 225,692 227,692 Z" fill="#e6e6e6" stroke="#c4c4c4" stroke-width="0.7"/>
<ellipse cx="234.5" cy="698.5" rx="3" ry="1.7" fill="#fafafa" stroke="#c8c8c8" stroke-width="0.5"/>

<!-- leader lines -->
<g class="ld">
  <path d="M476.7,67 L508.4,100.4 L606.4,100.4"/>
  <path d="M478.7,133 L504,157.3 L607,157.3"/>
  <path d="M465.5,308.5 L496,333.3 L591,333.3"/>
  <path d="M333,567.5 L381,535.3 L569.4,535.3"/>
  <path d="M332.5,612 L380,579.8 L559.2,579.8"/>
  <path d="M345.6,672.5 L385,644.4 L577.6,644.4"/>
  <path d="M348,741.5 L421,689 L579,689"/>
</g>

<!-- labels -->
<g class="t">
  <text x="510.1" y="77.40" textLength="92.3" lengthAdjust="spacingAndGlyphs">наконечник</text>
  <text x="509.8" y="91.50" textLength="69.5" lengthAdjust="spacingAndGlyphs">болтовой</text>
  <text x="510.4" y="135.10" textLength="64.1" lengthAdjust="spacingAndGlyphs">манжета</text>
  <text x="510.4" y="149.10" textLength="95.7" lengthAdjust="spacingAndGlyphs">концевая т/у</text>
  <text x="500.8" y="309.85" textLength="48.6" lengthAdjust="spacingAndGlyphs">трубка</text>
  <text x="500.8" y="324.30" textLength="88.4" lengthAdjust="spacingAndGlyphs">жильная т/у</text>
  <text x="387.9" y="528.60" textLength="181.1" lengthAdjust="spacingAndGlyphs">перчатка кабельная т/у</text>
  <text x="390.8" y="557.50" textLength="161.1" lengthAdjust="spacingAndGlyphs">пружина постоянного</text>
  <text x="390.4" y="571.60" textLength="120.5" lengthAdjust="spacingAndGlyphs">давления, терка</text>
  <text x="392.9" y="637.60" textLength="181.1" lengthAdjust="spacingAndGlyphs">манжета покровная т/у</text>
  <text x="423.6" y="680.60" textLength="150.8" lengthAdjust="spacingAndGlyphs">провод заземления</text>
</g>
</svg>
</body></html>
